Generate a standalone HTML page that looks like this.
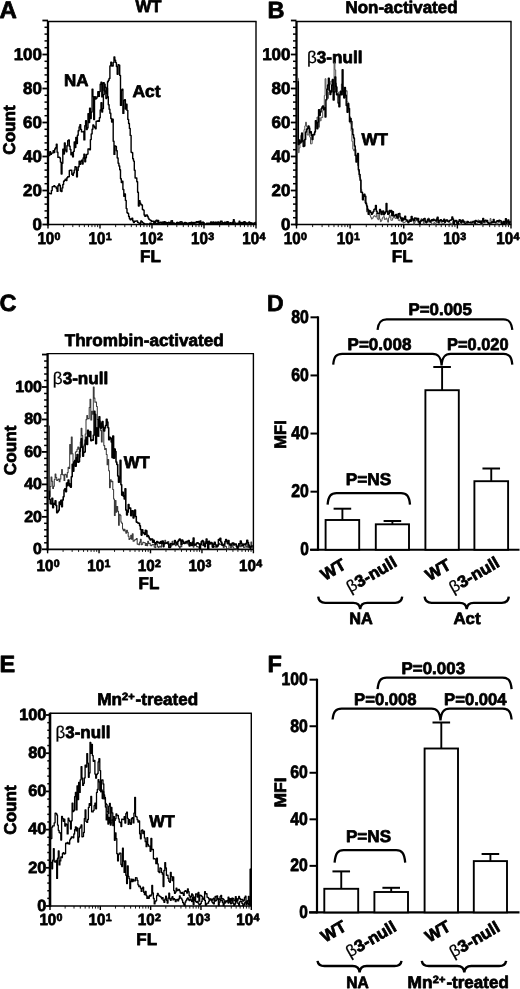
<!DOCTYPE html>
<html lang="en">
<head>
<meta charset="utf-8">
<title>Figure</title>
<style>
html,body{margin:0;padding:0;background:#fff;}
body{width:520px;height:989px;overflow:hidden;font-family:"Liberation Sans",sans-serif;}
svg{display:block;filter:grayscale(1);}
text{text-rendering:geometricPrecision;}
</style>
</head>
<body>
<svg width="520" height="989" viewBox="0 0 520 989" shape-rendering="geometricPrecision">
<rect width="520" height="989" fill="#fff"/>
<defs><filter id="soft" x="0" y="0" width="100%" height="100%" filterUnits="userSpaceOnUse" color-interpolation-filters="sRGB"><feGaussianBlur stdDeviation="0.42"/></filter></defs>
<g filter="url(#soft)">
<rect width="520" height="989" fill="#fff"/>
<line x1="48.00" y1="21.00" x2="48.00" y2="225.50" stroke="#000" stroke-width="2.3" stroke-linecap="butt"/>
<line x1="47.00" y1="224.50" x2="256.50" y2="224.50" stroke="#000" stroke-width="1.7" stroke-linecap="butt"/>
<line x1="48.00" y1="21.50" x2="256.60" y2="21.50" stroke="#000" stroke-width="1.35" stroke-linecap="butt"/>
<line x1="256.00" y1="21.50" x2="256.00" y2="224.50" stroke="#000" stroke-width="1.4" stroke-linecap="butt"/>
<line x1="42.40" y1="224.50" x2="48.00" y2="224.50" stroke="#000" stroke-width="1.8" stroke-linecap="butt"/>
<line x1="44.50" y1="217.70" x2="48.00" y2="217.70" stroke="#000" stroke-width="1.5" stroke-linecap="butt"/>
<line x1="44.50" y1="210.90" x2="48.00" y2="210.90" stroke="#000" stroke-width="1.5" stroke-linecap="butt"/>
<line x1="44.50" y1="204.10" x2="48.00" y2="204.10" stroke="#000" stroke-width="1.5" stroke-linecap="butt"/>
<line x1="44.50" y1="197.30" x2="48.00" y2="197.30" stroke="#000" stroke-width="1.5" stroke-linecap="butt"/>
<line x1="42.40" y1="190.50" x2="48.00" y2="190.50" stroke="#000" stroke-width="1.8" stroke-linecap="butt"/>
<line x1="44.50" y1="183.70" x2="48.00" y2="183.70" stroke="#000" stroke-width="1.5" stroke-linecap="butt"/>
<line x1="44.50" y1="176.90" x2="48.00" y2="176.90" stroke="#000" stroke-width="1.5" stroke-linecap="butt"/>
<line x1="44.50" y1="170.10" x2="48.00" y2="170.10" stroke="#000" stroke-width="1.5" stroke-linecap="butt"/>
<line x1="44.50" y1="163.30" x2="48.00" y2="163.30" stroke="#000" stroke-width="1.5" stroke-linecap="butt"/>
<line x1="42.40" y1="156.50" x2="48.00" y2="156.50" stroke="#000" stroke-width="1.8" stroke-linecap="butt"/>
<line x1="44.50" y1="149.70" x2="48.00" y2="149.70" stroke="#000" stroke-width="1.5" stroke-linecap="butt"/>
<line x1="44.50" y1="142.90" x2="48.00" y2="142.90" stroke="#000" stroke-width="1.5" stroke-linecap="butt"/>
<line x1="44.50" y1="136.10" x2="48.00" y2="136.10" stroke="#000" stroke-width="1.5" stroke-linecap="butt"/>
<line x1="44.50" y1="129.30" x2="48.00" y2="129.30" stroke="#000" stroke-width="1.5" stroke-linecap="butt"/>
<line x1="42.40" y1="122.50" x2="48.00" y2="122.50" stroke="#000" stroke-width="1.8" stroke-linecap="butt"/>
<line x1="44.50" y1="115.70" x2="48.00" y2="115.70" stroke="#000" stroke-width="1.5" stroke-linecap="butt"/>
<line x1="44.50" y1="108.90" x2="48.00" y2="108.90" stroke="#000" stroke-width="1.5" stroke-linecap="butt"/>
<line x1="44.50" y1="102.10" x2="48.00" y2="102.10" stroke="#000" stroke-width="1.5" stroke-linecap="butt"/>
<line x1="44.50" y1="95.30" x2="48.00" y2="95.30" stroke="#000" stroke-width="1.5" stroke-linecap="butt"/>
<line x1="42.40" y1="88.50" x2="48.00" y2="88.50" stroke="#000" stroke-width="1.8" stroke-linecap="butt"/>
<line x1="44.50" y1="81.70" x2="48.00" y2="81.70" stroke="#000" stroke-width="1.5" stroke-linecap="butt"/>
<line x1="44.50" y1="74.90" x2="48.00" y2="74.90" stroke="#000" stroke-width="1.5" stroke-linecap="butt"/>
<line x1="44.50" y1="68.10" x2="48.00" y2="68.10" stroke="#000" stroke-width="1.5" stroke-linecap="butt"/>
<line x1="44.50" y1="61.30" x2="48.00" y2="61.30" stroke="#000" stroke-width="1.5" stroke-linecap="butt"/>
<line x1="42.40" y1="54.50" x2="48.00" y2="54.50" stroke="#000" stroke-width="1.8" stroke-linecap="butt"/>
<line x1="44.50" y1="47.70" x2="48.00" y2="47.70" stroke="#000" stroke-width="1.5" stroke-linecap="butt"/>
<line x1="44.50" y1="40.90" x2="48.00" y2="40.90" stroke="#000" stroke-width="1.5" stroke-linecap="butt"/>
<line x1="44.50" y1="34.10" x2="48.00" y2="34.10" stroke="#000" stroke-width="1.5" stroke-linecap="butt"/>
<line x1="44.50" y1="27.30" x2="48.00" y2="27.30" stroke="#000" stroke-width="1.5" stroke-linecap="butt"/>
<line x1="42.40" y1="20.50" x2="48.00" y2="20.50" stroke="#000" stroke-width="1.8" stroke-linecap="butt"/>
<text x="42.00" y="229.59" font-size="17" text-anchor="end" font-family="Liberation Sans, sans-serif" font-weight="bold" stroke="#000" stroke-width="0.75" stroke-linejoin="round" >0</text>
<text x="42.00" y="195.59" font-size="17" text-anchor="end" font-family="Liberation Sans, sans-serif" font-weight="bold" stroke="#000" stroke-width="0.75" stroke-linejoin="round" >20</text>
<text x="42.00" y="161.59" font-size="17" text-anchor="end" font-family="Liberation Sans, sans-serif" font-weight="bold" stroke="#000" stroke-width="0.75" stroke-linejoin="round" >40</text>
<text x="42.00" y="127.59" font-size="17" text-anchor="end" font-family="Liberation Sans, sans-serif" font-weight="bold" stroke="#000" stroke-width="0.75" stroke-linejoin="round" >60</text>
<text x="42.00" y="93.59" font-size="17" text-anchor="end" font-family="Liberation Sans, sans-serif" font-weight="bold" stroke="#000" stroke-width="0.75" stroke-linejoin="round" >80</text>
<text x="42.00" y="59.59" font-size="17" text-anchor="end" font-family="Liberation Sans, sans-serif" font-weight="bold" stroke="#000" stroke-width="0.75" stroke-linejoin="round" >100</text>
<line x1="48.00" y1="224.50" x2="48.00" y2="228.50" stroke="#000" stroke-width="1.4" stroke-linecap="butt"/>
<line x1="63.65" y1="224.50" x2="63.65" y2="227.10" stroke="#000" stroke-width="0.9" stroke-linecap="butt"/>
<line x1="72.81" y1="224.50" x2="72.81" y2="227.10" stroke="#000" stroke-width="0.9" stroke-linecap="butt"/>
<line x1="79.31" y1="224.50" x2="79.31" y2="227.10" stroke="#000" stroke-width="0.9" stroke-linecap="butt"/>
<line x1="84.35" y1="224.50" x2="84.35" y2="227.10" stroke="#000" stroke-width="0.9" stroke-linecap="butt"/>
<line x1="88.46" y1="224.50" x2="88.46" y2="227.10" stroke="#000" stroke-width="0.9" stroke-linecap="butt"/>
<line x1="91.95" y1="224.50" x2="91.95" y2="227.10" stroke="#000" stroke-width="0.9" stroke-linecap="butt"/>
<line x1="94.96" y1="224.50" x2="94.96" y2="227.10" stroke="#000" stroke-width="0.9" stroke-linecap="butt"/>
<line x1="97.62" y1="224.50" x2="97.62" y2="227.10" stroke="#000" stroke-width="0.9" stroke-linecap="butt"/>
<text x="37.40" y="243.60" font-size="17" text-anchor="start" font-family="Liberation Sans, sans-serif" font-weight="bold" stroke="#000" stroke-width="0.75" stroke-linejoin="round" textLength="16.9" lengthAdjust="spacingAndGlyphs" >10</text>
<text x="54.60" y="240.00" font-size="10.6" text-anchor="start" font-family="Liberation Sans, sans-serif" font-weight="bold" stroke="#000" stroke-width="0.75" stroke-linejoin="round" >0</text>
<line x1="100.00" y1="224.50" x2="100.00" y2="228.50" stroke="#000" stroke-width="1.4" stroke-linecap="butt"/>
<line x1="115.65" y1="224.50" x2="115.65" y2="227.10" stroke="#000" stroke-width="0.9" stroke-linecap="butt"/>
<line x1="124.81" y1="224.50" x2="124.81" y2="227.10" stroke="#000" stroke-width="0.9" stroke-linecap="butt"/>
<line x1="131.31" y1="224.50" x2="131.31" y2="227.10" stroke="#000" stroke-width="0.9" stroke-linecap="butt"/>
<line x1="136.35" y1="224.50" x2="136.35" y2="227.10" stroke="#000" stroke-width="0.9" stroke-linecap="butt"/>
<line x1="140.46" y1="224.50" x2="140.46" y2="227.10" stroke="#000" stroke-width="0.9" stroke-linecap="butt"/>
<line x1="143.95" y1="224.50" x2="143.95" y2="227.10" stroke="#000" stroke-width="0.9" stroke-linecap="butt"/>
<line x1="146.96" y1="224.50" x2="146.96" y2="227.10" stroke="#000" stroke-width="0.9" stroke-linecap="butt"/>
<line x1="149.62" y1="224.50" x2="149.62" y2="227.10" stroke="#000" stroke-width="0.9" stroke-linecap="butt"/>
<text x="88.60" y="243.60" font-size="17" text-anchor="start" font-family="Liberation Sans, sans-serif" font-weight="bold" stroke="#000" stroke-width="0.75" stroke-linejoin="round" textLength="16.9" lengthAdjust="spacingAndGlyphs" >10</text>
<text x="105.80" y="240.00" font-size="10.6" text-anchor="start" font-family="Liberation Sans, sans-serif" font-weight="bold" stroke="#000" stroke-width="0.75" stroke-linejoin="round" >1</text>
<line x1="152.00" y1="224.50" x2="152.00" y2="228.50" stroke="#000" stroke-width="1.4" stroke-linecap="butt"/>
<line x1="167.65" y1="224.50" x2="167.65" y2="227.10" stroke="#000" stroke-width="0.9" stroke-linecap="butt"/>
<line x1="176.81" y1="224.50" x2="176.81" y2="227.10" stroke="#000" stroke-width="0.9" stroke-linecap="butt"/>
<line x1="183.31" y1="224.50" x2="183.31" y2="227.10" stroke="#000" stroke-width="0.9" stroke-linecap="butt"/>
<line x1="188.35" y1="224.50" x2="188.35" y2="227.10" stroke="#000" stroke-width="0.9" stroke-linecap="butt"/>
<line x1="192.46" y1="224.50" x2="192.46" y2="227.10" stroke="#000" stroke-width="0.9" stroke-linecap="butt"/>
<line x1="195.95" y1="224.50" x2="195.95" y2="227.10" stroke="#000" stroke-width="0.9" stroke-linecap="butt"/>
<line x1="198.96" y1="224.50" x2="198.96" y2="227.10" stroke="#000" stroke-width="0.9" stroke-linecap="butt"/>
<line x1="201.62" y1="224.50" x2="201.62" y2="227.10" stroke="#000" stroke-width="0.9" stroke-linecap="butt"/>
<text x="139.80" y="243.60" font-size="17" text-anchor="start" font-family="Liberation Sans, sans-serif" font-weight="bold" stroke="#000" stroke-width="0.75" stroke-linejoin="round" textLength="16.9" lengthAdjust="spacingAndGlyphs" >10</text>
<text x="157.00" y="240.00" font-size="10.6" text-anchor="start" font-family="Liberation Sans, sans-serif" font-weight="bold" stroke="#000" stroke-width="0.75" stroke-linejoin="round" >2</text>
<line x1="204.00" y1="224.50" x2="204.00" y2="228.50" stroke="#000" stroke-width="1.4" stroke-linecap="butt"/>
<line x1="219.65" y1="224.50" x2="219.65" y2="227.10" stroke="#000" stroke-width="0.9" stroke-linecap="butt"/>
<line x1="228.81" y1="224.50" x2="228.81" y2="227.10" stroke="#000" stroke-width="0.9" stroke-linecap="butt"/>
<line x1="235.31" y1="224.50" x2="235.31" y2="227.10" stroke="#000" stroke-width="0.9" stroke-linecap="butt"/>
<line x1="240.35" y1="224.50" x2="240.35" y2="227.10" stroke="#000" stroke-width="0.9" stroke-linecap="butt"/>
<line x1="244.46" y1="224.50" x2="244.46" y2="227.10" stroke="#000" stroke-width="0.9" stroke-linecap="butt"/>
<line x1="247.95" y1="224.50" x2="247.95" y2="227.10" stroke="#000" stroke-width="0.9" stroke-linecap="butt"/>
<line x1="250.96" y1="224.50" x2="250.96" y2="227.10" stroke="#000" stroke-width="0.9" stroke-linecap="butt"/>
<line x1="253.62" y1="224.50" x2="253.62" y2="227.10" stroke="#000" stroke-width="0.9" stroke-linecap="butt"/>
<text x="191.00" y="243.60" font-size="17" text-anchor="start" font-family="Liberation Sans, sans-serif" font-weight="bold" stroke="#000" stroke-width="0.75" stroke-linejoin="round" textLength="16.9" lengthAdjust="spacingAndGlyphs" >10</text>
<text x="208.20" y="240.00" font-size="10.6" text-anchor="start" font-family="Liberation Sans, sans-serif" font-weight="bold" stroke="#000" stroke-width="0.75" stroke-linejoin="round" >3</text>
<line x1="256.00" y1="224.50" x2="256.00" y2="228.50" stroke="#000" stroke-width="1.4" stroke-linecap="butt"/>
<text x="242.20" y="243.60" font-size="17" text-anchor="start" font-family="Liberation Sans, sans-serif" font-weight="bold" stroke="#000" stroke-width="0.75" stroke-linejoin="round" textLength="16.9" lengthAdjust="spacingAndGlyphs" >10</text>
<text x="259.40" y="240.00" font-size="10.6" text-anchor="start" font-family="Liberation Sans, sans-serif" font-weight="bold" stroke="#000" stroke-width="0.75" stroke-linejoin="round" >4</text>
<text x="150.50" y="262.00" font-size="17" text-anchor="middle" font-family="Liberation Sans, sans-serif" font-weight="bold" stroke="#000" stroke-width="0.75" stroke-linejoin="round" >FL</text>
<text x="15.30" y="130.00" font-size="17" text-anchor="middle" font-family="Liberation Sans, sans-serif" font-weight="bold" stroke="#000" stroke-width="0.75" stroke-linejoin="round" textLength="49.5" lengthAdjust="spacingAndGlyphs" transform="rotate(-90 15.30 130.00)" >Count</text>
<text x="-0.50" y="18.20" font-size="24" text-anchor="start" font-family="Liberation Sans, sans-serif" font-weight="bold" stroke="#000" stroke-width="0.75" stroke-linejoin="round" >A</text>
<text x="148.50" y="12.40" font-size="17" text-anchor="middle" font-family="Liberation Sans, sans-serif" font-weight="bold" stroke="#000" stroke-width="0.75" stroke-linejoin="round" textLength="26.0" lengthAdjust="spacingAndGlyphs" >WT</text>
<text x="64.00" y="86.30" font-size="17" text-anchor="start" font-family="Liberation Sans, sans-serif" font-weight="bold" stroke="#000" stroke-width="0.75" stroke-linejoin="round" textLength="24.5" lengthAdjust="spacingAndGlyphs" >NA</text>
<text x="132.50" y="97.20" font-size="17" text-anchor="start" font-family="Liberation Sans, sans-serif" font-weight="bold" stroke="#000" stroke-width="0.75" stroke-linejoin="round" textLength="28.0" lengthAdjust="spacingAndGlyphs" >Act</text>
<path d="M49.0 155.6H49.8V151.8H50.6V154.4H51.4V153.1H52.2V153.1H53.1V150.7H53.9V152.6H54.7V149.0H55.5V147.7H56.3V144.3H57.1V152.3H57.9V157.4H58.8V157.1H59.6V157.9H60.4V162.1H61.2V174.0H62.0V163.2H62.8V149.1H63.6V154.0H64.4V143.0H65.2V150.1H66.1V151.7H66.9V145.7H67.7V140.7H68.5V140.0H69.3V146.3H70.1V149.5H70.9V154.7H71.8V152.8H72.6V156.9H73.4V151.4H74.2V142.0H75.0V147.6H75.8V137.4H76.6V143.5H77.4V135.2H78.2V130.7H79.1V127.0H79.9V124.8H80.7V129.4H81.5V131.9H82.3V131.9H83.1V131.4H83.9V139.9H84.8V125.7H85.6V120.7H86.4V129.6H87.2V127.9H88.0V113.6H88.8V122.6H89.6V108.1H90.4V118.5H91.2V112.1H92.1V89.1H92.9V96.6H93.7V119.5H94.5V96.6H95.3V99.1H96.1V98.3H96.9V96.7H97.8V91.8H98.6V96.4H99.4V91.6H100.2V84.2H101.0V82.1H101.8V96.9H102.6V83.3H103.4V82.6H104.2V90.8H105.1V91.4H105.9V93.2H106.7V88.3H107.5V96.7H108.3V104.8H109.1V109.3H109.9V113.2H110.8V118.5H111.6V122.1H112.4V119.3H113.2V141.2H114.0V154.4H114.8V146.0H115.6V146.4H116.4V150.7H117.2V158.0H118.1V163.3H118.9V166.0H119.7V169.8H120.5V178.8H121.3V182.5H122.1V181.3H122.9V189.5H123.8V196.3H124.6V194.0H125.4V200.4H126.2V208.6H127.0V212.8H127.8V213.4H128.6V216.5H129.4V218.7H130.2V219.7H131.1V219.0H131.9V218.2H132.7V220.9H133.5V222.6H134.3V221.3H135.1V221.3H135.9V220.9H136.8V221.0H137.6V222.4H138.4V222.9H139.2V223.2H140.0V223.8H140.8V220.9H141.6V221.6H142.4V222.6H143.2V223.3H144.1V224.2H144.9V224.0H145.7V224.0H146.5V224.2H147.3V224.0H148.1V224.1H148.9V224.2H149.8V223.2H150.6V223.3H151.4V224.2H152.2V224.2H153.0V223.5H153.8V222.5H154.6V223.7H155.4V223.9H156.2V223.7H157.1V223.1H157.9V223.6H158.7V222.8H159.5V223.1H160.3V222.7H161.1V223.1H161.9V223.8H162.8V223.0H163.6V224.2H164.4V221.6H165.2V222.8H166.0V223.1H166.8V223.7H167.6V222.9H168.4V222.5H169.2V223.3H170.1V223.8H170.9V223.5H171.7V222.7H172.5V222.9H173.3V223.8H174.1V223.4H174.9V223.8H175.8V223.7H176.6V222.4H177.4V222.6H178.2V223.7H179.0V223.3H179.8V223.1H180.6V223.8H181.4V223.4H182.2V223.3H183.1V224.2H183.9V223.3H184.7V222.6H185.5V223.1H186.3V224.2H187.1V223.6H187.9V223.8H188.8V223.0H189.6V222.7H190.4V223.2H191.2V224.0H192.0V223.8H192.8V223.1H193.6V223.7H194.4V223.1H195.2V222.9H196.1V222.9H196.9V221.6H197.7V222.3H198.5V222.2H199.3V224.2H200.1V224.2H200.9V223.0H201.8V222.7H202.6V222.1H203.4V223.9H204.2V224.2H205.0V224.2H205.8V224.2H206.6V223.6H207.4V224.0H208.2V223.1H209.1V223.3H209.9V223.9H210.7V223.9H211.5V223.5H212.3V223.3H213.1V222.7H213.9V223.4H214.8V222.4H215.6V223.5H216.4V223.0H217.2V223.4H218.0V222.3H218.8V222.8H219.6V222.9H220.4V222.9H221.2V224.0H222.1V224.2H222.9V224.2H223.7V223.1H224.5V223.8H225.3V224.0H226.1V223.1H226.9V222.3H227.8V224.2H228.6V223.7H229.4V223.6H230.2V223.5H231.0V224.2H231.8V224.0H232.6V222.5H233.4V219.6H234.2V222.1H235.1V223.7H235.9V223.6H236.7V223.8H237.5V224.2H238.3V224.2H239.1V223.2H239.9V223.1H240.8V223.2H241.6V222.8H242.4V223.8H243.2V223.3H244.0V221.9H244.8V223.4H245.6V223.1H246.4V223.2H247.2V223.2H248.1V222.8H248.9V222.0H249.7V223.0H250.5V222.7H251.3V222.9H252.1V223.4H252.9V223.2H253.8V223.7H254.6V223.0H255.4V223.9H255.7" fill="none" stroke="#000" stroke-width="1.4" stroke-linejoin="round"/>
<path d="M49.0 193.3H49.8V193.6H50.6V193.8H51.4V190.6H52.2V186.6H53.1V186.5H53.9V185.7H54.7V186.8H55.5V186.9H56.3V188.5H57.1V191.4H57.9V185.8H58.8V184.0H59.6V185.5H60.4V191.0H61.2V191.5H62.0V187.9H62.8V184.5H63.6V181.3H64.4V180.4H65.2V179.2H66.1V180.5H66.9V177.7H67.7V176.7H68.5V176.8H69.3V170.5H70.1V170.3H70.9V170.1H71.8V174.4H72.6V175.3H73.4V172.9H74.2V170.1H75.0V166.8H75.8V167.1H76.6V176.9H77.4V170.4H78.2V166.7H79.1V161.3H79.9V164.3H80.7V161.3H81.5V160.3H82.3V164.1H83.1V158.0H83.9V154.1H84.8V161.7H85.6V157.7H86.4V154.5H87.2V154.1H88.0V148.9H88.8V149.0H89.6V149.8H90.4V139.6H91.2V133.9H92.1V129.2H92.9V125.0H93.7V126.1H94.5V127.5H95.3V128.7H96.1V121.2H96.9V121.3H97.8V120.7H98.6V121.2H99.4V117.8H100.2V110.0H101.0V102.6H101.8V112.0H102.6V108.6H103.4V94.6H104.2V84.3H105.1V87.2H105.9V98.5H106.7V97.5H107.5V81.7H108.3V80.3H109.1V78.4H109.9V65.9H110.8V62.2H111.6V66.0H112.4V66.1H113.2V62.4H114.0V56.9H114.8V60.3H115.6V62.6H116.4V66.6H117.2V74.3H118.1V64.6H118.9V65.1H119.7V75.4H120.5V105.4H121.3V90.2H122.1V89.2H122.9V113.4H123.8V100.5H124.6V99.8H125.4V109.0H126.2V104.2H127.0V110.4H127.8V119.4H128.6V123.5H129.4V128.4H130.2V135.4H131.1V152.2H131.9V152.8H132.7V158.8H133.5V161.1H134.3V170.3H135.1V178.0H135.9V178.0H136.8V181.7H137.6V192.2H138.4V206.0H139.2V200.8H140.0V203.1H140.8V204.7H141.6V205.0H142.4V209.5H143.2V210.1H144.1V215.0H144.9V216.4H145.7V215.1H146.5V215.0H147.3V216.3H148.1V218.1H148.9V219.4H149.8V220.1H150.6V220.5H151.4V221.4H152.2V221.3H153.0V221.2H153.8V221.5H154.6V222.7H155.4V220.9H156.2V220.2H157.1V221.7H157.9V220.5H158.7V223.0H159.5V222.6H160.3V222.1H161.1V222.8H161.9V222.1H162.8V221.9H163.6V224.2H164.4V224.2H165.2V222.8H166.0V222.4H166.8V222.7H167.6V223.0H168.4V222.4H169.2V222.6H170.1V222.7H170.9V221.0H171.7V220.8H172.5V223.3H173.3V223.2H174.1V223.1H174.9V223.7H175.8V224.2H176.6V223.7H177.4V222.5H178.2V223.7H179.0V223.1H179.8V222.0H180.6V221.7H181.4V222.0H182.2V224.1H183.1V223.8H183.9V223.2H184.7V222.4H185.5V222.7H186.3V224.2H187.1V223.1H187.9V223.7H188.8V223.2H189.6V224.0H190.4V223.0H191.2V222.1H192.0V222.9H192.8V222.8H193.6V222.4H194.4V222.8H195.2V222.8H196.1V221.7H196.9V222.0H197.7V222.5H198.5V221.4H199.3V223.2H200.1V220.9H200.9V223.1H201.8V223.0H202.6V222.5H203.4V222.7H204.2V224.2H205.0V224.2H205.8V224.2H206.6V223.3H207.4V224.2H208.2V224.2H209.1V224.2H209.9V224.2H210.7V222.0H211.5V222.2H212.3V223.6H213.1V222.0H213.9V223.9H214.8V222.6H215.6V222.1H216.4V223.2H217.2V222.1H218.0V222.2H218.8V223.6H219.6V224.2H220.4V221.2H221.2V221.3H222.1V224.2H222.9V223.0H223.7V222.6H224.5V222.3H225.3V223.5H226.1V222.4H226.9V221.7H227.8V222.0H228.6V223.3H229.4V223.7H230.2V222.7H231.0V223.0H231.8V222.9H232.6V222.3H233.4V223.7H234.2V224.2H235.1V224.2H235.9V224.2H236.7V223.1H237.5V223.1H238.3V223.7H239.1V221.2H239.9V222.8H240.8V222.9H241.6V222.4H242.4V222.9H243.2V222.4H244.0V221.8H244.8V222.1H245.6V223.4H246.4V223.3H247.2V224.2H248.1V224.2H248.9V224.2H249.7V223.4H250.5V224.1H251.3V223.8H252.1V223.6H252.9V223.6H253.8V224.2H254.6V223.1H255.4V222.2H255.7" fill="none" stroke="#000" stroke-width="1.4" stroke-linejoin="round"/>
<line x1="296.50" y1="21.00" x2="296.50" y2="225.50" stroke="#000" stroke-width="2.3" stroke-linecap="butt"/>
<line x1="295.50" y1="224.50" x2="511.50" y2="224.50" stroke="#000" stroke-width="1.7" stroke-linecap="butt"/>
<line x1="296.50" y1="21.50" x2="511.60" y2="21.50" stroke="#000" stroke-width="1.35" stroke-linecap="butt"/>
<line x1="511.00" y1="21.50" x2="511.00" y2="224.50" stroke="#000" stroke-width="1.4" stroke-linecap="butt"/>
<line x1="290.90" y1="224.50" x2="296.50" y2="224.50" stroke="#000" stroke-width="1.8" stroke-linecap="butt"/>
<line x1="293.00" y1="217.70" x2="296.50" y2="217.70" stroke="#000" stroke-width="1.5" stroke-linecap="butt"/>
<line x1="293.00" y1="210.90" x2="296.50" y2="210.90" stroke="#000" stroke-width="1.5" stroke-linecap="butt"/>
<line x1="293.00" y1="204.10" x2="296.50" y2="204.10" stroke="#000" stroke-width="1.5" stroke-linecap="butt"/>
<line x1="293.00" y1="197.30" x2="296.50" y2="197.30" stroke="#000" stroke-width="1.5" stroke-linecap="butt"/>
<line x1="290.90" y1="190.50" x2="296.50" y2="190.50" stroke="#000" stroke-width="1.8" stroke-linecap="butt"/>
<line x1="293.00" y1="183.70" x2="296.50" y2="183.70" stroke="#000" stroke-width="1.5" stroke-linecap="butt"/>
<line x1="293.00" y1="176.90" x2="296.50" y2="176.90" stroke="#000" stroke-width="1.5" stroke-linecap="butt"/>
<line x1="293.00" y1="170.10" x2="296.50" y2="170.10" stroke="#000" stroke-width="1.5" stroke-linecap="butt"/>
<line x1="293.00" y1="163.30" x2="296.50" y2="163.30" stroke="#000" stroke-width="1.5" stroke-linecap="butt"/>
<line x1="290.90" y1="156.50" x2="296.50" y2="156.50" stroke="#000" stroke-width="1.8" stroke-linecap="butt"/>
<line x1="293.00" y1="149.70" x2="296.50" y2="149.70" stroke="#000" stroke-width="1.5" stroke-linecap="butt"/>
<line x1="293.00" y1="142.90" x2="296.50" y2="142.90" stroke="#000" stroke-width="1.5" stroke-linecap="butt"/>
<line x1="293.00" y1="136.10" x2="296.50" y2="136.10" stroke="#000" stroke-width="1.5" stroke-linecap="butt"/>
<line x1="293.00" y1="129.30" x2="296.50" y2="129.30" stroke="#000" stroke-width="1.5" stroke-linecap="butt"/>
<line x1="290.90" y1="122.50" x2="296.50" y2="122.50" stroke="#000" stroke-width="1.8" stroke-linecap="butt"/>
<line x1="293.00" y1="115.70" x2="296.50" y2="115.70" stroke="#000" stroke-width="1.5" stroke-linecap="butt"/>
<line x1="293.00" y1="108.90" x2="296.50" y2="108.90" stroke="#000" stroke-width="1.5" stroke-linecap="butt"/>
<line x1="293.00" y1="102.10" x2="296.50" y2="102.10" stroke="#000" stroke-width="1.5" stroke-linecap="butt"/>
<line x1="293.00" y1="95.30" x2="296.50" y2="95.30" stroke="#000" stroke-width="1.5" stroke-linecap="butt"/>
<line x1="290.90" y1="88.50" x2="296.50" y2="88.50" stroke="#000" stroke-width="1.8" stroke-linecap="butt"/>
<line x1="293.00" y1="81.70" x2="296.50" y2="81.70" stroke="#000" stroke-width="1.5" stroke-linecap="butt"/>
<line x1="293.00" y1="74.90" x2="296.50" y2="74.90" stroke="#000" stroke-width="1.5" stroke-linecap="butt"/>
<line x1="293.00" y1="68.10" x2="296.50" y2="68.10" stroke="#000" stroke-width="1.5" stroke-linecap="butt"/>
<line x1="293.00" y1="61.30" x2="296.50" y2="61.30" stroke="#000" stroke-width="1.5" stroke-linecap="butt"/>
<line x1="290.90" y1="54.50" x2="296.50" y2="54.50" stroke="#000" stroke-width="1.8" stroke-linecap="butt"/>
<line x1="293.00" y1="47.70" x2="296.50" y2="47.70" stroke="#000" stroke-width="1.5" stroke-linecap="butt"/>
<line x1="293.00" y1="40.90" x2="296.50" y2="40.90" stroke="#000" stroke-width="1.5" stroke-linecap="butt"/>
<line x1="293.00" y1="34.10" x2="296.50" y2="34.10" stroke="#000" stroke-width="1.5" stroke-linecap="butt"/>
<line x1="293.00" y1="27.30" x2="296.50" y2="27.30" stroke="#000" stroke-width="1.5" stroke-linecap="butt"/>
<line x1="290.90" y1="20.50" x2="296.50" y2="20.50" stroke="#000" stroke-width="1.8" stroke-linecap="butt"/>
<text x="290.50" y="229.59" font-size="17" text-anchor="end" font-family="Liberation Sans, sans-serif" font-weight="bold" stroke="#000" stroke-width="0.75" stroke-linejoin="round" >0</text>
<text x="290.50" y="195.59" font-size="17" text-anchor="end" font-family="Liberation Sans, sans-serif" font-weight="bold" stroke="#000" stroke-width="0.75" stroke-linejoin="round" >20</text>
<text x="290.50" y="161.59" font-size="17" text-anchor="end" font-family="Liberation Sans, sans-serif" font-weight="bold" stroke="#000" stroke-width="0.75" stroke-linejoin="round" >40</text>
<text x="290.50" y="127.59" font-size="17" text-anchor="end" font-family="Liberation Sans, sans-serif" font-weight="bold" stroke="#000" stroke-width="0.75" stroke-linejoin="round" >60</text>
<text x="290.50" y="93.59" font-size="17" text-anchor="end" font-family="Liberation Sans, sans-serif" font-weight="bold" stroke="#000" stroke-width="0.75" stroke-linejoin="round" >80</text>
<text x="290.50" y="59.59" font-size="17" text-anchor="end" font-family="Liberation Sans, sans-serif" font-weight="bold" stroke="#000" stroke-width="0.75" stroke-linejoin="round" >100</text>
<line x1="296.50" y1="224.50" x2="296.50" y2="228.50" stroke="#000" stroke-width="1.4" stroke-linecap="butt"/>
<line x1="312.64" y1="224.50" x2="312.64" y2="227.10" stroke="#000" stroke-width="0.9" stroke-linecap="butt"/>
<line x1="322.09" y1="224.50" x2="322.09" y2="227.10" stroke="#000" stroke-width="0.9" stroke-linecap="butt"/>
<line x1="328.79" y1="224.50" x2="328.79" y2="227.10" stroke="#000" stroke-width="0.9" stroke-linecap="butt"/>
<line x1="333.98" y1="224.50" x2="333.98" y2="227.10" stroke="#000" stroke-width="0.9" stroke-linecap="butt"/>
<line x1="338.23" y1="224.50" x2="338.23" y2="227.10" stroke="#000" stroke-width="0.9" stroke-linecap="butt"/>
<line x1="341.82" y1="224.50" x2="341.82" y2="227.10" stroke="#000" stroke-width="0.9" stroke-linecap="butt"/>
<line x1="344.93" y1="224.50" x2="344.93" y2="227.10" stroke="#000" stroke-width="0.9" stroke-linecap="butt"/>
<line x1="347.67" y1="224.50" x2="347.67" y2="227.10" stroke="#000" stroke-width="0.9" stroke-linecap="butt"/>
<text x="283.70" y="243.60" font-size="17" text-anchor="start" font-family="Liberation Sans, sans-serif" font-weight="bold" stroke="#000" stroke-width="0.75" stroke-linejoin="round" textLength="16.9" lengthAdjust="spacingAndGlyphs" >10</text>
<text x="300.90" y="240.00" font-size="10.6" text-anchor="start" font-family="Liberation Sans, sans-serif" font-weight="bold" stroke="#000" stroke-width="0.75" stroke-linejoin="round" >0</text>
<line x1="350.12" y1="224.50" x2="350.12" y2="228.50" stroke="#000" stroke-width="1.4" stroke-linecap="butt"/>
<line x1="366.27" y1="224.50" x2="366.27" y2="227.10" stroke="#000" stroke-width="0.9" stroke-linecap="butt"/>
<line x1="375.71" y1="224.50" x2="375.71" y2="227.10" stroke="#000" stroke-width="0.9" stroke-linecap="butt"/>
<line x1="382.41" y1="224.50" x2="382.41" y2="227.10" stroke="#000" stroke-width="0.9" stroke-linecap="butt"/>
<line x1="387.61" y1="224.50" x2="387.61" y2="227.10" stroke="#000" stroke-width="0.9" stroke-linecap="butt"/>
<line x1="391.85" y1="224.50" x2="391.85" y2="227.10" stroke="#000" stroke-width="0.9" stroke-linecap="butt"/>
<line x1="395.44" y1="224.50" x2="395.44" y2="227.10" stroke="#000" stroke-width="0.9" stroke-linecap="butt"/>
<line x1="398.55" y1="224.50" x2="398.55" y2="227.10" stroke="#000" stroke-width="0.9" stroke-linecap="butt"/>
<line x1="401.30" y1="224.50" x2="401.30" y2="227.10" stroke="#000" stroke-width="0.9" stroke-linecap="butt"/>
<text x="336.85" y="243.60" font-size="17" text-anchor="start" font-family="Liberation Sans, sans-serif" font-weight="bold" stroke="#000" stroke-width="0.75" stroke-linejoin="round" textLength="16.9" lengthAdjust="spacingAndGlyphs" >10</text>
<text x="354.05" y="240.00" font-size="10.6" text-anchor="start" font-family="Liberation Sans, sans-serif" font-weight="bold" stroke="#000" stroke-width="0.75" stroke-linejoin="round" >1</text>
<line x1="403.75" y1="224.50" x2="403.75" y2="228.50" stroke="#000" stroke-width="1.4" stroke-linecap="butt"/>
<line x1="419.89" y1="224.50" x2="419.89" y2="227.10" stroke="#000" stroke-width="0.9" stroke-linecap="butt"/>
<line x1="429.34" y1="224.50" x2="429.34" y2="227.10" stroke="#000" stroke-width="0.9" stroke-linecap="butt"/>
<line x1="436.04" y1="224.50" x2="436.04" y2="227.10" stroke="#000" stroke-width="0.9" stroke-linecap="butt"/>
<line x1="441.23" y1="224.50" x2="441.23" y2="227.10" stroke="#000" stroke-width="0.9" stroke-linecap="butt"/>
<line x1="445.48" y1="224.50" x2="445.48" y2="227.10" stroke="#000" stroke-width="0.9" stroke-linecap="butt"/>
<line x1="449.07" y1="224.50" x2="449.07" y2="227.10" stroke="#000" stroke-width="0.9" stroke-linecap="butt"/>
<line x1="452.18" y1="224.50" x2="452.18" y2="227.10" stroke="#000" stroke-width="0.9" stroke-linecap="butt"/>
<line x1="454.92" y1="224.50" x2="454.92" y2="227.10" stroke="#000" stroke-width="0.9" stroke-linecap="butt"/>
<text x="390.00" y="243.60" font-size="17" text-anchor="start" font-family="Liberation Sans, sans-serif" font-weight="bold" stroke="#000" stroke-width="0.75" stroke-linejoin="round" textLength="16.9" lengthAdjust="spacingAndGlyphs" >10</text>
<text x="407.20" y="240.00" font-size="10.6" text-anchor="start" font-family="Liberation Sans, sans-serif" font-weight="bold" stroke="#000" stroke-width="0.75" stroke-linejoin="round" >2</text>
<line x1="457.38" y1="224.50" x2="457.38" y2="228.50" stroke="#000" stroke-width="1.4" stroke-linecap="butt"/>
<line x1="473.52" y1="224.50" x2="473.52" y2="227.10" stroke="#000" stroke-width="0.9" stroke-linecap="butt"/>
<line x1="482.96" y1="224.50" x2="482.96" y2="227.10" stroke="#000" stroke-width="0.9" stroke-linecap="butt"/>
<line x1="489.66" y1="224.50" x2="489.66" y2="227.10" stroke="#000" stroke-width="0.9" stroke-linecap="butt"/>
<line x1="494.86" y1="224.50" x2="494.86" y2="227.10" stroke="#000" stroke-width="0.9" stroke-linecap="butt"/>
<line x1="499.10" y1="224.50" x2="499.10" y2="227.10" stroke="#000" stroke-width="0.9" stroke-linecap="butt"/>
<line x1="502.69" y1="224.50" x2="502.69" y2="227.10" stroke="#000" stroke-width="0.9" stroke-linecap="butt"/>
<line x1="505.80" y1="224.50" x2="505.80" y2="227.10" stroke="#000" stroke-width="0.9" stroke-linecap="butt"/>
<line x1="508.55" y1="224.50" x2="508.55" y2="227.10" stroke="#000" stroke-width="0.9" stroke-linecap="butt"/>
<text x="443.15" y="243.60" font-size="17" text-anchor="start" font-family="Liberation Sans, sans-serif" font-weight="bold" stroke="#000" stroke-width="0.75" stroke-linejoin="round" textLength="16.9" lengthAdjust="spacingAndGlyphs" >10</text>
<text x="460.35" y="240.00" font-size="10.6" text-anchor="start" font-family="Liberation Sans, sans-serif" font-weight="bold" stroke="#000" stroke-width="0.75" stroke-linejoin="round" >3</text>
<line x1="511.00" y1="224.50" x2="511.00" y2="228.50" stroke="#000" stroke-width="1.4" stroke-linecap="butt"/>
<text x="496.30" y="243.60" font-size="17" text-anchor="start" font-family="Liberation Sans, sans-serif" font-weight="bold" stroke="#000" stroke-width="0.75" stroke-linejoin="round" textLength="16.9" lengthAdjust="spacingAndGlyphs" >10</text>
<text x="513.50" y="240.00" font-size="10.6" text-anchor="start" font-family="Liberation Sans, sans-serif" font-weight="bold" stroke="#000" stroke-width="0.75" stroke-linejoin="round" >4</text>
<text x="402.25" y="262.00" font-size="17" text-anchor="middle" font-family="Liberation Sans, sans-serif" font-weight="bold" stroke="#000" stroke-width="0.75" stroke-linejoin="round" >FL</text>
<text x="-100.00" y="-100.00" font-size="17" text-anchor="middle" font-family="Liberation Sans, sans-serif" font-weight="bold" stroke="#000" stroke-width="0.75" stroke-linejoin="round" textLength="49.5" lengthAdjust="spacingAndGlyphs" transform="rotate(-90 -100.00 -100.00)" >Count</text>
<text x="267.60" y="17.60" font-size="23.5" text-anchor="start" font-family="Liberation Sans, sans-serif" font-weight="bold" stroke="#000" stroke-width="0.75" stroke-linejoin="round" >B</text>
<text x="401.50" y="12.50" font-size="17" text-anchor="middle" font-family="Liberation Sans, sans-serif" font-weight="bold" stroke="#000" stroke-width="0.75" stroke-linejoin="round" textLength="112.0" lengthAdjust="spacingAndGlyphs" >Non-activated</text>
<text x="307.00" y="62.60" font-size="17" text-anchor="start" font-family="Liberation Sans, sans-serif" font-weight="bold" stroke="#000" stroke-width="0.75" stroke-linejoin="round" textLength="55.5" lengthAdjust="spacingAndGlyphs" ><tspan font-weight="normal" stroke-width="0.25">&#946;</tspan>3-null</text>
<text x="361.50" y="145.00" font-size="17" text-anchor="start" font-family="Liberation Sans, sans-serif" font-weight="bold" stroke="#000" stroke-width="0.75" stroke-linejoin="round" textLength="26.5" lengthAdjust="spacingAndGlyphs" >WT</text>
<path d="M297.5 78.3H298.3V152.7H299.1V148.0H299.9V142.3H300.8V135.4H301.6V132.5H302.4V141.0H303.2V140.3H304.0V129.6H304.8V125.9H305.6V122.2H306.4V126.5H307.2V135.0H308.1V135.0H308.9V126.4H309.7V137.1H310.5V143.9H311.3V143.8H312.1V137.2H312.9V134.4H313.8V134.7H314.6V131.5H315.4V126.6H316.2V120.9H317.0V117.0H317.8V121.7H318.6V127.3H319.4V117.8H320.2V120.8H321.1V117.2H321.9V117.6H322.7V110.3H323.5V108.1H324.3V95.6H325.1V78.7H325.9V88.8H326.8V91.0H327.6V98.5H328.4V92.5H329.2V84.2H330.0V84.2H330.8V81.0H331.6V81.2H332.4V82.8H333.2V89.7H334.1V62.8H334.9V69.9H335.7V83.1H336.5V87.1H337.3V91.8H338.1V92.7H338.9V97.6H339.8V91.3H340.6V90.6H341.4V84.0H342.2V86.1H343.0V93.0H343.8V98.2H344.6V92.9H345.4V91.5H346.2V90.7H347.1V101.7H347.9V104.3H348.7V109.0H349.5V116.7H350.3V123.7H351.1V131.1H351.9V141.4H352.8V149.2H353.6V150.8H354.4V149.3H355.2V149.4H356.0V155.0H356.8V160.1H357.6V165.7H358.4V171.3H359.2V177.0H360.1V178.7H360.9V189.2H361.7V191.9H362.5V196.6H363.3V194.7H364.1V200.3H364.9V203.1H365.8V202.2H366.6V211.9H367.4V208.4H368.2V210.2H369.0V214.3H369.8V215.4H370.6V217.3H371.4V219.1H372.2V218.3H373.1V216.8H373.9V215.7H374.7V216.4H375.5V217.0H376.3V213.5H377.1V218.4H377.9V219.7H378.8V213.2H379.6V219.1H380.4V221.7H381.2V220.6H382.0V218.4H382.8V217.0H383.6V216.6H384.4V219.5H385.2V219.0H386.1V218.0H386.9V219.9H387.7V222.2H388.5V217.9H389.3V214.9H390.1V217.1H390.9V220.3H391.8V220.2H392.6V218.1H393.4V215.5H394.2V217.5H395.0V218.5H395.8V217.5H396.6V218.5H397.4V217.6H398.2V220.3H399.1V220.7H399.9V218.8H400.7V217.8H401.5V218.8H402.3V220.5H403.1V223.0H403.9V222.5H404.8V222.0H405.6V221.4H406.4V220.4H407.2V220.8H408.0V220.0H408.8V220.6H409.6V221.3H410.4V220.8H411.2V220.1H412.1V220.0H412.9V221.4H413.7V224.2H414.5V222.3H415.3V219.2H416.1V219.0H416.9V221.1H417.8V222.4H418.6V222.9H419.4V221.5H420.2V220.3H421.0V218.7H421.8V220.7H422.6V220.3H423.4V224.1H424.2V220.7H425.1V221.4H425.9V223.3H426.7V222.5H427.5V222.3H428.3V218.0H429.1V219.1H429.9V220.8H430.8V222.5H431.6V224.2H432.4V224.2H433.2V223.4H434.0V222.4H434.8V224.2H435.6V223.2H436.4V218.5H437.2V220.1H438.1V223.2H438.9V223.7H439.7V221.2H440.5V221.1H441.3V223.0H442.1V223.3H442.9V223.4H443.8V223.8H444.6V222.8H445.4V220.7H446.2V220.3H447.0V219.7H447.8V221.6H448.6V222.6H449.4V223.3H450.2V223.0H451.1V224.2H451.9V224.2H452.7V221.6H453.5V220.3H454.3V220.5H455.1V220.5H455.9V221.8H456.8V222.9H457.6V222.6H458.4V223.0H459.2V224.1H460.0V224.2H460.8V224.2H461.6V222.8H462.4V222.4H463.2V222.4H464.1V221.0H464.9V221.6H465.7V221.4H466.5V221.3H467.3V223.5H468.1V221.5H468.9V222.5H469.8V222.5H470.6V221.3H471.4V221.4H472.2V221.2H473.0V222.1H473.8V224.1H474.6V222.6H475.4V223.2H476.2V223.6H477.1V223.0H477.9V219.9H478.7V221.2H479.5V221.8H480.3V224.1H481.1V224.2H481.9V224.2H482.8V221.3H483.6V222.3H484.4V223.1H485.2V222.6H486.0V222.1H486.8V221.9H487.6V223.4H488.4V223.9H489.2V223.2H490.1V218.5H490.9V221.2H491.7V222.5H492.5V222.5H493.3V222.5H494.1V222.6H494.9V223.0H495.8V223.5H496.6V224.2H497.4V223.3H498.2V221.3H499.0V221.8H499.8V222.7H500.6V223.0H501.4V222.8H502.2V222.7H503.1V223.3H503.9V222.8H504.7V222.8H505.5V223.7H506.3V224.2H507.1V224.2H507.9V223.9H508.8V223.1H509.6V222.5H510.4V221.3H510.7" fill="none" stroke="#505050" stroke-width="1.0" stroke-linejoin="round"/>
<path d="M297.5 81.7H298.3V144.4H299.1V140.1H299.9V143.1H300.8V141.9H301.6V133.6H302.4V140.8H303.2V146.6H304.0V145.9H304.8V139.4H305.6V131.9H306.4V129.6H307.2V128.4H308.1V126.1H308.9V128.2H309.7V132.8H310.5V131.7H311.3V135.4H312.1V139.6H312.9V134.4H313.8V134.8H314.6V132.0H315.4V120.8H316.2V123.3H317.0V128.7H317.8V122.1H318.6V109.8H319.4V115.6H320.2V112.0H321.1V108.7H321.9V106.9H322.7V105.9H323.5V109.4H324.3V108.0H325.1V117.0H325.9V99.8H326.8V89.4H327.6V85.1H328.4V78.2H329.2V90.4H330.0V94.4H330.8V92.0H331.6V84.9H332.4V79.5H333.2V100.1H334.1V92.0H334.9V77.1H335.7V86.2H336.5V94.7H337.3V93.9H338.1V103.1H338.9V106.7H339.8V94.8H340.6V91.6H341.4V94.8H342.2V69.7H343.0V91.2H343.8V97.7H344.6V87.4H345.4V95.3H346.2V105.4H347.1V112.3H347.9V103.5H348.7V108.4H349.5V121.8H350.3V118.5H351.1V121.6H351.9V129.1H352.8V134.7H353.6V138.0H354.4V145.9H355.2V155.4H356.0V162.1H356.8V159.2H357.6V153.6H358.4V169.7H359.2V174.5H360.1V180.3H360.9V192.2H361.7V192.5H362.5V199.8H363.3V196.6H364.1V194.3H364.9V196.3H365.8V203.8H366.6V206.0H367.4V209.8H368.2V214.2H369.0V210.6H369.8V211.1H370.6V212.5H371.4V214.3H372.2V213.1H373.1V211.5H373.9V209.6H374.7V208.9H375.5V205.4H376.3V211.3H377.1V213.3H377.9V213.2H378.8V213.2H379.6V209.4H380.4V211.0H381.2V214.6H382.0V212.4H382.8V211.1H383.6V214.8H384.4V213.5H385.2V211.9H386.1V203.6H386.9V211.2H387.7V214.2H388.5V213.7H389.3V210.4H390.1V212.1H390.9V210.5H391.8V215.7H392.6V211.7H393.4V215.2H394.2V216.1H395.0V215.2H395.8V214.4H396.6V217.1H397.4V218.0H398.2V213.8H399.1V213.6H399.9V217.1H400.7V218.3H401.5V221.0H402.3V218.0H403.1V220.0H403.9V219.0H404.8V216.3H405.6V219.8H406.4V220.0H407.2V221.5H408.0V222.8H408.8V221.6H409.6V220.0H410.4V221.3H411.2V216.6H412.1V218.7H412.9V220.0H413.7V220.8H414.5V218.0H415.3V218.3H416.1V218.2H416.9V220.0H417.8V218.5H418.6V221.8H419.4V224.2H420.2V221.4H421.0V220.6H421.8V220.1H422.6V220.6H423.4V219.1H424.2V218.5H425.1V221.2H425.9V222.6H426.7V221.2H427.5V219.3H428.3V219.3H429.1V221.1H429.9V222.1H430.8V220.7H431.6V219.8H432.4V220.8H433.2V219.3H434.0V219.9H434.8V220.6H435.6V221.0H436.4V219.4H437.2V217.3H438.1V222.4H438.9V220.6H439.7V220.7H440.5V219.7H441.3V220.6H442.1V221.6H442.9V221.2H443.8V219.2H444.6V222.2H445.4V221.0H446.2V220.0H447.0V220.8H447.8V221.4H448.6V221.6H449.4V220.6H450.2V220.3H451.1V219.8H451.9V217.1H452.7V219.1H453.5V224.2H454.3V221.7H455.1V220.4H455.9V220.6H456.8V223.3H457.6V223.4H458.4V221.5H459.2V219.8H460.0V220.3H460.8V222.8H461.6V221.4H462.4V220.1H463.2V221.4H464.1V222.9H464.9V223.2H465.7V222.9H466.5V222.7H467.3V221.6H468.1V222.5H468.9V222.8H469.8V222.4H470.6V223.0H471.4V223.1H472.2V222.1H473.0V221.8H473.8V221.2H474.6V223.2H475.4V220.4H476.2V221.3H477.1V221.4H477.9V221.7H478.7V222.2H479.5V220.9H480.3V222.6H481.1V223.4H481.9V220.8H482.8V218.6H483.6V222.0H484.4V220.7H485.2V220.3H486.0V221.2H486.8V220.4H487.6V222.5H488.4V223.2H489.2V223.2H490.1V223.1H490.9V223.0H491.7V222.0H492.5V222.5H493.3V219.5H494.1V221.9H494.9V222.6H495.8V221.9H496.6V221.0H497.4V220.8H498.2V221.5H499.0V220.3H499.8V220.7H500.6V221.1H501.4V223.6H502.2V223.4H503.1V221.4H503.9V224.2H504.7V221.5H505.5V218.8H506.3V223.3H507.1V221.7H507.9V220.0H508.8V223.5H509.6V221.9H510.4V221.8H510.7" fill="none" stroke="#000" stroke-width="1.5" stroke-linejoin="round"/>
<line x1="47.60" y1="353.10" x2="47.60" y2="550.30" stroke="#000" stroke-width="2.3" stroke-linecap="butt"/>
<line x1="46.60" y1="549.30" x2="253.90" y2="549.30" stroke="#000" stroke-width="1.7" stroke-linecap="butt"/>
<line x1="47.60" y1="353.60" x2="254.00" y2="353.60" stroke="#000" stroke-width="1.35" stroke-linecap="butt"/>
<line x1="253.40" y1="353.60" x2="253.40" y2="549.30" stroke="#000" stroke-width="1.4" stroke-linecap="butt"/>
<line x1="42.00" y1="549.30" x2="47.60" y2="549.30" stroke="#000" stroke-width="1.8" stroke-linecap="butt"/>
<line x1="44.10" y1="542.81" x2="47.60" y2="542.81" stroke="#000" stroke-width="1.5" stroke-linecap="butt"/>
<line x1="44.10" y1="536.32" x2="47.60" y2="536.32" stroke="#000" stroke-width="1.5" stroke-linecap="butt"/>
<line x1="44.10" y1="529.82" x2="47.60" y2="529.82" stroke="#000" stroke-width="1.5" stroke-linecap="butt"/>
<line x1="44.10" y1="523.33" x2="47.60" y2="523.33" stroke="#000" stroke-width="1.5" stroke-linecap="butt"/>
<line x1="42.00" y1="516.84" x2="47.60" y2="516.84" stroke="#000" stroke-width="1.8" stroke-linecap="butt"/>
<line x1="44.10" y1="510.35" x2="47.60" y2="510.35" stroke="#000" stroke-width="1.5" stroke-linecap="butt"/>
<line x1="44.10" y1="503.86" x2="47.60" y2="503.86" stroke="#000" stroke-width="1.5" stroke-linecap="butt"/>
<line x1="44.10" y1="497.36" x2="47.60" y2="497.36" stroke="#000" stroke-width="1.5" stroke-linecap="butt"/>
<line x1="44.10" y1="490.87" x2="47.60" y2="490.87" stroke="#000" stroke-width="1.5" stroke-linecap="butt"/>
<line x1="42.00" y1="484.38" x2="47.60" y2="484.38" stroke="#000" stroke-width="1.8" stroke-linecap="butt"/>
<line x1="44.10" y1="477.89" x2="47.60" y2="477.89" stroke="#000" stroke-width="1.5" stroke-linecap="butt"/>
<line x1="44.10" y1="471.40" x2="47.60" y2="471.40" stroke="#000" stroke-width="1.5" stroke-linecap="butt"/>
<line x1="44.10" y1="464.90" x2="47.60" y2="464.90" stroke="#000" stroke-width="1.5" stroke-linecap="butt"/>
<line x1="44.10" y1="458.41" x2="47.60" y2="458.41" stroke="#000" stroke-width="1.5" stroke-linecap="butt"/>
<line x1="42.00" y1="451.92" x2="47.60" y2="451.92" stroke="#000" stroke-width="1.8" stroke-linecap="butt"/>
<line x1="44.10" y1="445.43" x2="47.60" y2="445.43" stroke="#000" stroke-width="1.5" stroke-linecap="butt"/>
<line x1="44.10" y1="438.94" x2="47.60" y2="438.94" stroke="#000" stroke-width="1.5" stroke-linecap="butt"/>
<line x1="44.10" y1="432.44" x2="47.60" y2="432.44" stroke="#000" stroke-width="1.5" stroke-linecap="butt"/>
<line x1="44.10" y1="425.95" x2="47.60" y2="425.95" stroke="#000" stroke-width="1.5" stroke-linecap="butt"/>
<line x1="42.00" y1="419.46" x2="47.60" y2="419.46" stroke="#000" stroke-width="1.8" stroke-linecap="butt"/>
<line x1="44.10" y1="412.97" x2="47.60" y2="412.97" stroke="#000" stroke-width="1.5" stroke-linecap="butt"/>
<line x1="44.10" y1="406.48" x2="47.60" y2="406.48" stroke="#000" stroke-width="1.5" stroke-linecap="butt"/>
<line x1="44.10" y1="399.98" x2="47.60" y2="399.98" stroke="#000" stroke-width="1.5" stroke-linecap="butt"/>
<line x1="44.10" y1="393.49" x2="47.60" y2="393.49" stroke="#000" stroke-width="1.5" stroke-linecap="butt"/>
<line x1="42.00" y1="387.00" x2="47.60" y2="387.00" stroke="#000" stroke-width="1.8" stroke-linecap="butt"/>
<line x1="44.10" y1="380.51" x2="47.60" y2="380.51" stroke="#000" stroke-width="1.5" stroke-linecap="butt"/>
<line x1="44.10" y1="374.02" x2="47.60" y2="374.02" stroke="#000" stroke-width="1.5" stroke-linecap="butt"/>
<line x1="44.10" y1="367.52" x2="47.60" y2="367.52" stroke="#000" stroke-width="1.5" stroke-linecap="butt"/>
<line x1="44.10" y1="361.03" x2="47.60" y2="361.03" stroke="#000" stroke-width="1.5" stroke-linecap="butt"/>
<line x1="42.00" y1="354.54" x2="47.60" y2="354.54" stroke="#000" stroke-width="1.8" stroke-linecap="butt"/>
<text x="42.00" y="554.03" font-size="16" text-anchor="end" font-family="Liberation Sans, sans-serif" font-weight="bold" stroke="#000" stroke-width="0.75" stroke-linejoin="round" >0</text>
<text x="42.00" y="521.57" font-size="16" text-anchor="end" font-family="Liberation Sans, sans-serif" font-weight="bold" stroke="#000" stroke-width="0.75" stroke-linejoin="round" >20</text>
<text x="42.00" y="489.11" font-size="16" text-anchor="end" font-family="Liberation Sans, sans-serif" font-weight="bold" stroke="#000" stroke-width="0.75" stroke-linejoin="round" >40</text>
<text x="42.00" y="456.65" font-size="16" text-anchor="end" font-family="Liberation Sans, sans-serif" font-weight="bold" stroke="#000" stroke-width="0.75" stroke-linejoin="round" >60</text>
<text x="42.00" y="424.19" font-size="16" text-anchor="end" font-family="Liberation Sans, sans-serif" font-weight="bold" stroke="#000" stroke-width="0.75" stroke-linejoin="round" >80</text>
<text x="42.00" y="391.73" font-size="16" text-anchor="end" font-family="Liberation Sans, sans-serif" font-weight="bold" stroke="#000" stroke-width="0.75" stroke-linejoin="round" >100</text>
<line x1="47.60" y1="549.30" x2="47.60" y2="553.30" stroke="#000" stroke-width="1.4" stroke-linecap="butt"/>
<line x1="63.09" y1="549.30" x2="63.09" y2="551.90" stroke="#000" stroke-width="0.9" stroke-linecap="butt"/>
<line x1="72.15" y1="549.30" x2="72.15" y2="551.90" stroke="#000" stroke-width="0.9" stroke-linecap="butt"/>
<line x1="78.58" y1="549.30" x2="78.58" y2="551.90" stroke="#000" stroke-width="0.9" stroke-linecap="butt"/>
<line x1="83.56" y1="549.30" x2="83.56" y2="551.90" stroke="#000" stroke-width="0.9" stroke-linecap="butt"/>
<line x1="87.64" y1="549.30" x2="87.64" y2="551.90" stroke="#000" stroke-width="0.9" stroke-linecap="butt"/>
<line x1="91.08" y1="549.30" x2="91.08" y2="551.90" stroke="#000" stroke-width="0.9" stroke-linecap="butt"/>
<line x1="94.06" y1="549.30" x2="94.06" y2="551.90" stroke="#000" stroke-width="0.9" stroke-linecap="butt"/>
<line x1="96.70" y1="549.30" x2="96.70" y2="551.90" stroke="#000" stroke-width="0.9" stroke-linecap="butt"/>
<text x="36.60" y="570.80" font-size="16" text-anchor="start" font-family="Liberation Sans, sans-serif" font-weight="bold" stroke="#000" stroke-width="0.75" stroke-linejoin="round" textLength="16.9" lengthAdjust="spacingAndGlyphs" >10</text>
<text x="53.80" y="567.20" font-size="10.6" text-anchor="start" font-family="Liberation Sans, sans-serif" font-weight="bold" stroke="#000" stroke-width="0.75" stroke-linejoin="round" >0</text>
<line x1="99.05" y1="549.30" x2="99.05" y2="553.30" stroke="#000" stroke-width="1.4" stroke-linecap="butt"/>
<line x1="114.54" y1="549.30" x2="114.54" y2="551.90" stroke="#000" stroke-width="0.9" stroke-linecap="butt"/>
<line x1="123.60" y1="549.30" x2="123.60" y2="551.90" stroke="#000" stroke-width="0.9" stroke-linecap="butt"/>
<line x1="130.03" y1="549.30" x2="130.03" y2="551.90" stroke="#000" stroke-width="0.9" stroke-linecap="butt"/>
<line x1="135.01" y1="549.30" x2="135.01" y2="551.90" stroke="#000" stroke-width="0.9" stroke-linecap="butt"/>
<line x1="139.09" y1="549.30" x2="139.09" y2="551.90" stroke="#000" stroke-width="0.9" stroke-linecap="butt"/>
<line x1="142.53" y1="549.30" x2="142.53" y2="551.90" stroke="#000" stroke-width="0.9" stroke-linecap="butt"/>
<line x1="145.51" y1="549.30" x2="145.51" y2="551.90" stroke="#000" stroke-width="0.9" stroke-linecap="butt"/>
<line x1="148.15" y1="549.30" x2="148.15" y2="551.90" stroke="#000" stroke-width="0.9" stroke-linecap="butt"/>
<text x="87.20" y="570.80" font-size="16" text-anchor="start" font-family="Liberation Sans, sans-serif" font-weight="bold" stroke="#000" stroke-width="0.75" stroke-linejoin="round" textLength="16.9" lengthAdjust="spacingAndGlyphs" >10</text>
<text x="104.40" y="567.20" font-size="10.6" text-anchor="start" font-family="Liberation Sans, sans-serif" font-weight="bold" stroke="#000" stroke-width="0.75" stroke-linejoin="round" >1</text>
<line x1="150.50" y1="549.30" x2="150.50" y2="553.30" stroke="#000" stroke-width="1.4" stroke-linecap="butt"/>
<line x1="165.99" y1="549.30" x2="165.99" y2="551.90" stroke="#000" stroke-width="0.9" stroke-linecap="butt"/>
<line x1="175.05" y1="549.30" x2="175.05" y2="551.90" stroke="#000" stroke-width="0.9" stroke-linecap="butt"/>
<line x1="181.48" y1="549.30" x2="181.48" y2="551.90" stroke="#000" stroke-width="0.9" stroke-linecap="butt"/>
<line x1="186.46" y1="549.30" x2="186.46" y2="551.90" stroke="#000" stroke-width="0.9" stroke-linecap="butt"/>
<line x1="190.54" y1="549.30" x2="190.54" y2="551.90" stroke="#000" stroke-width="0.9" stroke-linecap="butt"/>
<line x1="193.98" y1="549.30" x2="193.98" y2="551.90" stroke="#000" stroke-width="0.9" stroke-linecap="butt"/>
<line x1="196.96" y1="549.30" x2="196.96" y2="551.90" stroke="#000" stroke-width="0.9" stroke-linecap="butt"/>
<line x1="199.60" y1="549.30" x2="199.60" y2="551.90" stroke="#000" stroke-width="0.9" stroke-linecap="butt"/>
<text x="137.80" y="570.80" font-size="16" text-anchor="start" font-family="Liberation Sans, sans-serif" font-weight="bold" stroke="#000" stroke-width="0.75" stroke-linejoin="round" textLength="16.9" lengthAdjust="spacingAndGlyphs" >10</text>
<text x="155.00" y="567.20" font-size="10.6" text-anchor="start" font-family="Liberation Sans, sans-serif" font-weight="bold" stroke="#000" stroke-width="0.75" stroke-linejoin="round" >2</text>
<line x1="201.95" y1="549.30" x2="201.95" y2="553.30" stroke="#000" stroke-width="1.4" stroke-linecap="butt"/>
<line x1="217.44" y1="549.30" x2="217.44" y2="551.90" stroke="#000" stroke-width="0.9" stroke-linecap="butt"/>
<line x1="226.50" y1="549.30" x2="226.50" y2="551.90" stroke="#000" stroke-width="0.9" stroke-linecap="butt"/>
<line x1="232.93" y1="549.30" x2="232.93" y2="551.90" stroke="#000" stroke-width="0.9" stroke-linecap="butt"/>
<line x1="237.91" y1="549.30" x2="237.91" y2="551.90" stroke="#000" stroke-width="0.9" stroke-linecap="butt"/>
<line x1="241.99" y1="549.30" x2="241.99" y2="551.90" stroke="#000" stroke-width="0.9" stroke-linecap="butt"/>
<line x1="245.43" y1="549.30" x2="245.43" y2="551.90" stroke="#000" stroke-width="0.9" stroke-linecap="butt"/>
<line x1="248.41" y1="549.30" x2="248.41" y2="551.90" stroke="#000" stroke-width="0.9" stroke-linecap="butt"/>
<line x1="251.05" y1="549.30" x2="251.05" y2="551.90" stroke="#000" stroke-width="0.9" stroke-linecap="butt"/>
<text x="188.40" y="570.80" font-size="16" text-anchor="start" font-family="Liberation Sans, sans-serif" font-weight="bold" stroke="#000" stroke-width="0.75" stroke-linejoin="round" textLength="16.9" lengthAdjust="spacingAndGlyphs" >10</text>
<text x="205.60" y="567.20" font-size="10.6" text-anchor="start" font-family="Liberation Sans, sans-serif" font-weight="bold" stroke="#000" stroke-width="0.75" stroke-linejoin="round" >3</text>
<line x1="253.40" y1="549.30" x2="253.40" y2="553.30" stroke="#000" stroke-width="1.4" stroke-linecap="butt"/>
<text x="239.00" y="570.80" font-size="16" text-anchor="start" font-family="Liberation Sans, sans-serif" font-weight="bold" stroke="#000" stroke-width="0.75" stroke-linejoin="round" textLength="16.9" lengthAdjust="spacingAndGlyphs" >10</text>
<text x="256.20" y="567.20" font-size="10.6" text-anchor="start" font-family="Liberation Sans, sans-serif" font-weight="bold" stroke="#000" stroke-width="0.75" stroke-linejoin="round" >4</text>
<text x="149.00" y="589.00" font-size="17" text-anchor="middle" font-family="Liberation Sans, sans-serif" font-weight="bold" stroke="#000" stroke-width="0.75" stroke-linejoin="round" >FL</text>
<text x="16.50" y="450.40" font-size="17" text-anchor="middle" font-family="Liberation Sans, sans-serif" font-weight="bold" stroke="#000" stroke-width="0.75" stroke-linejoin="round" textLength="49.5" lengthAdjust="spacingAndGlyphs" transform="rotate(-90 16.50 450.40)" >Count</text>
<text x="-0.60" y="310.60" font-size="23.5" text-anchor="start" font-family="Liberation Sans, sans-serif" font-weight="bold" stroke="#000" stroke-width="0.75" stroke-linejoin="round" >C</text>
<text x="144.20" y="346.00" font-size="17" text-anchor="middle" font-family="Liberation Sans, sans-serif" font-weight="bold" stroke="#000" stroke-width="0.75" stroke-linejoin="round" textLength="159.0" lengthAdjust="spacingAndGlyphs" >Thrombin-activated</text>
<text x="52.80" y="384.00" font-size="17" text-anchor="start" font-family="Liberation Sans, sans-serif" font-weight="bold" stroke="#000" stroke-width="0.75" stroke-linejoin="round" textLength="55.5" lengthAdjust="spacingAndGlyphs" ><tspan font-weight="normal" stroke-width="0.25">&#946;</tspan>3-null</text>
<text x="123.80" y="468.00" font-size="17" text-anchor="start" font-family="Liberation Sans, sans-serif" font-weight="bold" stroke="#000" stroke-width="0.75" stroke-linejoin="round" textLength="26.0" lengthAdjust="spacingAndGlyphs" >WT</text>
<path d="M48.6 426.0H49.4V496.6H50.2V486.4H51.0V477.0H51.9V481.3H52.7V488.5H53.5V486.3H54.3V479.4H55.1V473.9H55.9V477.5H56.7V480.5H57.5V479.7H58.4V478.9H59.2V481.8H60.0V479.0H60.8V474.4H61.6V469.6H62.4V474.6H63.2V475.0H64.0V480.4H64.8V474.2H65.7V474.7H66.5V477.2H67.3V472.6H68.1V467.2H68.9V468.4H69.7V444.4H70.5V453.9H71.3V437.0H72.2V453.8H73.0V465.7H73.8V461.6H74.6V460.1H75.4V451.9H76.2V451.5H77.0V449.3H77.8V446.9H78.7V449.1H79.5V457.3H80.3V442.0H81.1V428.2H81.9V435.5H82.7V452.8H83.5V446.0H84.3V444.1H85.2V433.9H86.0V419.6H86.8V415.4H87.6V418.6H88.4V418.8H89.2V407.5H90.0V399.3H90.8V419.9H91.7V411.3H92.5V414.3H93.3V387.1H94.1V398.1H94.9V402.2H95.7V402.1H96.5V406.5H97.3V419.5H98.2V436.5H99.0V427.6H99.8V421.0H100.6V430.6H101.4V442.0H102.2V424.3H103.0V426.3H103.8V445.6H104.7V449.5H105.5V448.5H106.3V454.5H107.1V464.8H107.9V459.6H108.7V470.8H109.5V487.6H110.3V479.7H111.2V481.8H112.0V481.3H112.8V489.5H113.6V498.9H114.4V515.5H115.2V500.6H116.0V512.1H116.8V506.5H117.7V511.2H118.5V525.3H119.3V514.3H120.1V515.3H120.9V522.0H121.7V523.3H122.5V528.9H123.3V530.6H124.2V529.2H125.0V531.0H125.8V533.1H126.6V530.3H127.4V532.3H128.2V536.2H129.0V539.5H129.8V538.5H130.7V535.2H131.5V539.3H132.3V533.8H133.1V541.3H133.9V540.7H134.7V539.8H135.5V539.5H136.3V538.6H137.2V544.1H138.0V544.0H138.8V544.7H139.6V542.1H140.4V539.3H141.2V544.6H142.0V544.1H142.8V542.3H143.7V542.5H144.5V542.8H145.3V545.4H146.1V543.5H146.9V545.6H147.7V541.2H148.5V543.4H149.3V543.3H150.2V545.3H151.0V545.8H151.8V544.7H152.6V544.2H153.4V544.8H154.2V546.9H155.0V547.6H155.8V543.1H156.7V543.8H157.5V546.8H158.3V547.6H159.1V546.2H159.9V546.2H160.7V547.1H161.5V542.9H162.3V543.1H163.2V544.5H164.0V543.8H164.8V540.3H165.6V542.5H166.4V543.1H167.2V541.7H168.0V541.6H168.8V544.4H169.7V545.7H170.5V546.2H171.3V545.6H172.1V541.3H172.9V544.7H173.7V543.9H174.5V544.2H175.3V545.6H176.2V543.7H177.0V544.7H177.8V545.2H178.6V546.4H179.4V549.1H180.2V546.1H181.0V546.8H181.8V543.9H182.7V543.5H183.5V542.1H184.3V542.8H185.1V542.8H185.9V542.4H186.7V543.6H187.5V542.6H188.3V544.3H189.2V544.9H190.0V545.5H190.8V544.1H191.6V543.9H192.4V543.0H193.2V547.1H194.0V545.4H194.8V544.4H195.7V545.5H196.5V546.8H197.3V546.6H198.1V546.9H198.9V549.1H199.7V546.4H200.5V543.8H201.3V542.1H202.2V545.2H203.0V545.4H203.8V543.0H204.6V543.6H205.4V541.8H206.2V543.0H207.0V541.5H207.8V543.4H208.7V544.0H209.5V542.4H210.3V543.3H211.1V542.6H211.9V546.9H212.7V546.0H213.5V545.9H214.3V546.7H215.2V547.3H216.0V547.2H216.8V546.2H217.6V546.1H218.4V544.6H219.2V543.6H220.0V544.5H220.8V544.6H221.7V543.0H222.5V544.6H223.3V547.7H224.1V544.3H224.9V546.1H225.7V546.6H226.5V548.4H227.3V549.1H228.2V548.8H229.0V545.1H229.8V545.5H230.6V547.9H231.4V546.1H232.2V544.8H233.0V547.6H233.8V548.7H234.7V548.7H235.5V548.7H236.3V549.1H237.1V548.2H237.9V548.4H238.7V546.1H239.5V544.1H240.3V546.7H241.2V545.5H242.0V545.8H242.8V545.4H243.6V547.5H244.4V546.9H245.2V547.0H246.0V546.3H246.8V547.1H247.7V543.7H248.5V547.4H249.3V547.7H250.1V547.3H250.9V541.9H251.7V546.9H252.5V547.9H253.1" fill="none" stroke="#3c3c3c" stroke-width="1.05" stroke-linejoin="round"/>
<path d="M48.6 491.2H49.4V499.3H50.2V503.8H51.0V504.0H51.9V498.2H52.7V507.8H53.5V503.5H54.3V504.1H55.1V500.8H55.9V505.4H56.7V512.8H57.5V511.8H58.4V510.3H59.2V501.9H60.0V504.4H60.8V500.2H61.6V506.8H62.4V500.1H63.2V496.8H64.0V490.0H64.8V488.8H65.7V491.8H66.5V483.1H67.3V485.6H68.1V480.1H68.9V483.5H69.7V486.1H70.5V487.3H71.3V476.8H72.2V464.2H73.0V471.3H73.8V462.4H74.6V460.7H75.4V466.2H76.2V457.8H77.0V454.4H77.8V462.3H78.7V461.7H79.5V451.3H80.3V447.5H81.1V438.8H81.9V447.0H82.7V456.2H83.5V452.4H84.3V452.0H85.2V439.9H86.0V437.2H86.8V444.5H87.6V430.3H88.4V435.7H89.2V436.4H90.0V431.5H90.8V440.7H91.7V439.9H92.5V440.2H93.3V435.3H94.1V411.3H94.9V414.3H95.7V443.7H96.5V428.0H97.3V436.0H98.2V419.6H99.0V416.7H99.8V426.8H100.6V428.1H101.4V422.9H102.2V421.4H103.0V427.4H103.8V431.0H104.7V427.9H105.5V425.4H106.3V419.2H107.1V422.1H107.9V427.8H108.7V439.8H109.5V437.2H110.3V438.1H111.2V442.0H112.0V457.6H112.8V435.9H113.6V458.3H114.4V449.0H115.2V451.4H116.0V462.1H116.8V464.5H117.7V475.9H118.5V482.3H119.3V477.7H120.1V460.2H120.9V484.8H121.7V495.1H122.5V492.2H123.3V496.2H124.2V498.9H125.0V488.7H125.8V510.1H126.6V514.9H127.4V512.3H128.2V504.5H129.0V508.5H129.8V508.1H130.7V515.6H131.5V511.0H132.3V510.8H133.1V517.9H133.9V515.3H134.7V509.9H135.5V516.4H136.3V522.1H137.2V522.4H138.0V523.2H138.8V523.2H139.6V525.7H140.4V529.4H141.2V535.1H142.0V529.7H142.8V532.7H143.7V533.3H144.5V534.5H145.3V530.3H146.1V530.8H146.9V536.5H147.7V535.5H148.5V537.0H149.3V538.7H150.2V539.9H151.0V539.1H151.8V539.1H152.6V542.3H153.4V540.3H154.2V542.4H155.0V544.5H155.8V542.8H156.7V541.5H157.5V542.3H158.3V542.3H159.1V543.4H159.9V543.3H160.7V541.6H161.5V543.3H162.3V541.1H163.2V546.6H164.0V543.1H164.8V543.4H165.6V543.3H166.4V542.9H167.2V542.8H168.0V544.0H168.8V547.5H169.7V547.4H170.5V543.5H171.3V543.9H172.1V544.1H172.9V543.9H173.7V543.9H174.5V540.4H175.3V541.9H176.2V543.5H177.0V544.2H177.8V541.2H178.6V540.0H179.4V539.0H180.2V540.6H181.0V544.4H181.8V540.1H182.7V541.3H183.5V543.2H184.3V543.4H185.1V542.8H185.9V541.6H186.7V542.0H187.5V541.3H188.3V540.5H189.2V546.0H190.0V542.8H190.8V543.7H191.6V545.4H192.4V541.9H193.2V538.1H194.0V544.9H194.8V544.5H195.7V544.1H196.5V542.9H197.3V542.8H198.1V543.6H198.9V543.9H199.7V549.1H200.5V544.6H201.3V541.5H202.2V540.5H203.0V541.6H203.8V545.4H204.6V546.8H205.4V543.4H206.2V539.1H207.0V541.8H207.8V549.1H208.7V541.3H209.5V544.0H210.3V543.6H211.1V542.4H211.9V543.8H212.7V547.3H213.5V544.2H214.3V542.2H215.2V544.5H216.0V546.3H216.8V546.6H217.6V545.1H218.4V539.4H219.2V540.1H220.0V538.2H220.8V541.9H221.7V544.9H222.5V545.4H223.3V545.2H224.1V544.0H224.9V541.6H225.7V539.6H226.5V541.6H227.3V543.6H228.2V540.4H229.0V544.1H229.8V544.0H230.6V545.2H231.4V543.9H232.2V542.9H233.0V542.9H233.8V545.0H234.7V543.9H235.5V544.1H236.3V546.6H237.1V548.3H237.9V546.0H238.7V543.7H239.5V543.7H240.3V541.1H241.2V543.2H242.0V545.7H242.8V545.2H243.6V544.1H244.4V544.2H245.2V545.0H246.0V543.2H246.8V540.2H247.7V542.5H248.5V544.9H249.3V546.7H250.1V548.1H250.9V546.2H251.7V546.0H252.5V546.0H253.1" fill="none" stroke="#000" stroke-width="1.55" stroke-linejoin="round"/>
<line x1="50.00" y1="712.70" x2="50.00" y2="907.00" stroke="#000" stroke-width="2.6" stroke-linecap="butt"/>
<line x1="49.00" y1="906.00" x2="251.80" y2="906.00" stroke="#000" stroke-width="1.7" stroke-linecap="butt"/>
<line x1="50.00" y1="713.20" x2="251.90" y2="713.20" stroke="#000" stroke-width="1.35" stroke-linecap="butt"/>
<line x1="251.30" y1="713.20" x2="251.30" y2="906.00" stroke="#000" stroke-width="1.4" stroke-linecap="butt"/>
<line x1="46.00" y1="906.00" x2="50.00" y2="906.00" stroke="#000" stroke-width="1.8" stroke-linecap="butt"/>
<line x1="47.30" y1="898.36" x2="50.00" y2="898.36" stroke="#000" stroke-width="1.5" stroke-linecap="butt"/>
<line x1="47.30" y1="890.72" x2="50.00" y2="890.72" stroke="#000" stroke-width="1.5" stroke-linecap="butt"/>
<line x1="47.30" y1="883.08" x2="50.00" y2="883.08" stroke="#000" stroke-width="1.5" stroke-linecap="butt"/>
<line x1="47.30" y1="875.44" x2="50.00" y2="875.44" stroke="#000" stroke-width="1.5" stroke-linecap="butt"/>
<line x1="46.00" y1="867.80" x2="50.00" y2="867.80" stroke="#000" stroke-width="1.8" stroke-linecap="butt"/>
<line x1="47.30" y1="860.16" x2="50.00" y2="860.16" stroke="#000" stroke-width="1.5" stroke-linecap="butt"/>
<line x1="47.30" y1="852.52" x2="50.00" y2="852.52" stroke="#000" stroke-width="1.5" stroke-linecap="butt"/>
<line x1="47.30" y1="844.88" x2="50.00" y2="844.88" stroke="#000" stroke-width="1.5" stroke-linecap="butt"/>
<line x1="47.30" y1="837.24" x2="50.00" y2="837.24" stroke="#000" stroke-width="1.5" stroke-linecap="butt"/>
<line x1="46.00" y1="829.60" x2="50.00" y2="829.60" stroke="#000" stroke-width="1.8" stroke-linecap="butt"/>
<line x1="47.30" y1="821.96" x2="50.00" y2="821.96" stroke="#000" stroke-width="1.5" stroke-linecap="butt"/>
<line x1="47.30" y1="814.32" x2="50.00" y2="814.32" stroke="#000" stroke-width="1.5" stroke-linecap="butt"/>
<line x1="47.30" y1="806.68" x2="50.00" y2="806.68" stroke="#000" stroke-width="1.5" stroke-linecap="butt"/>
<line x1="47.30" y1="799.04" x2="50.00" y2="799.04" stroke="#000" stroke-width="1.5" stroke-linecap="butt"/>
<line x1="46.00" y1="791.40" x2="50.00" y2="791.40" stroke="#000" stroke-width="1.8" stroke-linecap="butt"/>
<line x1="47.30" y1="783.76" x2="50.00" y2="783.76" stroke="#000" stroke-width="1.5" stroke-linecap="butt"/>
<line x1="47.30" y1="776.12" x2="50.00" y2="776.12" stroke="#000" stroke-width="1.5" stroke-linecap="butt"/>
<line x1="47.30" y1="768.48" x2="50.00" y2="768.48" stroke="#000" stroke-width="1.5" stroke-linecap="butt"/>
<line x1="47.30" y1="760.84" x2="50.00" y2="760.84" stroke="#000" stroke-width="1.5" stroke-linecap="butt"/>
<line x1="46.00" y1="753.20" x2="50.00" y2="753.20" stroke="#000" stroke-width="1.8" stroke-linecap="butt"/>
<line x1="47.30" y1="745.56" x2="50.00" y2="745.56" stroke="#000" stroke-width="1.5" stroke-linecap="butt"/>
<line x1="47.30" y1="737.92" x2="50.00" y2="737.92" stroke="#000" stroke-width="1.5" stroke-linecap="butt"/>
<line x1="47.30" y1="730.28" x2="50.00" y2="730.28" stroke="#000" stroke-width="1.5" stroke-linecap="butt"/>
<line x1="47.30" y1="722.64" x2="50.00" y2="722.64" stroke="#000" stroke-width="1.5" stroke-linecap="butt"/>
<line x1="46.00" y1="715.00" x2="50.00" y2="715.00" stroke="#000" stroke-width="1.8" stroke-linecap="butt"/>
<text x="46.40" y="910.84" font-size="16.3" text-anchor="end" font-family="Liberation Sans, sans-serif" font-weight="bold" stroke="#000" stroke-width="0.75" stroke-linejoin="round" >0</text>
<text x="46.40" y="872.64" font-size="16.3" text-anchor="end" font-family="Liberation Sans, sans-serif" font-weight="bold" stroke="#000" stroke-width="0.75" stroke-linejoin="round" >20</text>
<text x="46.40" y="834.44" font-size="16.3" text-anchor="end" font-family="Liberation Sans, sans-serif" font-weight="bold" stroke="#000" stroke-width="0.75" stroke-linejoin="round" >40</text>
<text x="46.40" y="796.24" font-size="16.3" text-anchor="end" font-family="Liberation Sans, sans-serif" font-weight="bold" stroke="#000" stroke-width="0.75" stroke-linejoin="round" >60</text>
<text x="46.40" y="758.04" font-size="16.3" text-anchor="end" font-family="Liberation Sans, sans-serif" font-weight="bold" stroke="#000" stroke-width="0.75" stroke-linejoin="round" >80</text>
<text x="46.40" y="719.84" font-size="16.3" text-anchor="end" font-family="Liberation Sans, sans-serif" font-weight="bold" stroke="#000" stroke-width="0.75" stroke-linejoin="round" >100</text>
<line x1="50.00" y1="906.00" x2="50.00" y2="910.00" stroke="#000" stroke-width="1.4" stroke-linecap="butt"/>
<line x1="65.15" y1="906.00" x2="65.15" y2="908.60" stroke="#000" stroke-width="0.9" stroke-linecap="butt"/>
<line x1="74.01" y1="906.00" x2="74.01" y2="908.60" stroke="#000" stroke-width="0.9" stroke-linecap="butt"/>
<line x1="80.30" y1="906.00" x2="80.30" y2="908.60" stroke="#000" stroke-width="0.9" stroke-linecap="butt"/>
<line x1="85.18" y1="906.00" x2="85.18" y2="908.60" stroke="#000" stroke-width="0.9" stroke-linecap="butt"/>
<line x1="89.16" y1="906.00" x2="89.16" y2="908.60" stroke="#000" stroke-width="0.9" stroke-linecap="butt"/>
<line x1="92.53" y1="906.00" x2="92.53" y2="908.60" stroke="#000" stroke-width="0.9" stroke-linecap="butt"/>
<line x1="95.45" y1="906.00" x2="95.45" y2="908.60" stroke="#000" stroke-width="0.9" stroke-linecap="butt"/>
<line x1="98.02" y1="906.00" x2="98.02" y2="908.60" stroke="#000" stroke-width="0.9" stroke-linecap="butt"/>
<text x="39.40" y="924.80" font-size="16.3" text-anchor="start" font-family="Liberation Sans, sans-serif" font-weight="bold" stroke="#000" stroke-width="0.75" stroke-linejoin="round" textLength="16.9" lengthAdjust="spacingAndGlyphs" >10</text>
<text x="56.60" y="921.20" font-size="10.6" text-anchor="start" font-family="Liberation Sans, sans-serif" font-weight="bold" stroke="#000" stroke-width="0.75" stroke-linejoin="round" >0</text>
<line x1="100.33" y1="906.00" x2="100.33" y2="910.00" stroke="#000" stroke-width="1.4" stroke-linecap="butt"/>
<line x1="115.47" y1="906.00" x2="115.47" y2="908.60" stroke="#000" stroke-width="0.9" stroke-linecap="butt"/>
<line x1="124.34" y1="906.00" x2="124.34" y2="908.60" stroke="#000" stroke-width="0.9" stroke-linecap="butt"/>
<line x1="130.62" y1="906.00" x2="130.62" y2="908.60" stroke="#000" stroke-width="0.9" stroke-linecap="butt"/>
<line x1="135.50" y1="906.00" x2="135.50" y2="908.60" stroke="#000" stroke-width="0.9" stroke-linecap="butt"/>
<line x1="139.49" y1="906.00" x2="139.49" y2="908.60" stroke="#000" stroke-width="0.9" stroke-linecap="butt"/>
<line x1="142.85" y1="906.00" x2="142.85" y2="908.60" stroke="#000" stroke-width="0.9" stroke-linecap="butt"/>
<line x1="145.77" y1="906.00" x2="145.77" y2="908.60" stroke="#000" stroke-width="0.9" stroke-linecap="butt"/>
<line x1="148.35" y1="906.00" x2="148.35" y2="908.60" stroke="#000" stroke-width="0.9" stroke-linecap="butt"/>
<text x="88.60" y="924.80" font-size="16.3" text-anchor="start" font-family="Liberation Sans, sans-serif" font-weight="bold" stroke="#000" stroke-width="0.75" stroke-linejoin="round" textLength="16.9" lengthAdjust="spacingAndGlyphs" >10</text>
<text x="105.80" y="921.20" font-size="10.6" text-anchor="start" font-family="Liberation Sans, sans-serif" font-weight="bold" stroke="#000" stroke-width="0.75" stroke-linejoin="round" >1</text>
<line x1="150.65" y1="906.00" x2="150.65" y2="910.00" stroke="#000" stroke-width="1.4" stroke-linecap="butt"/>
<line x1="165.80" y1="906.00" x2="165.80" y2="908.60" stroke="#000" stroke-width="0.9" stroke-linecap="butt"/>
<line x1="174.66" y1="906.00" x2="174.66" y2="908.60" stroke="#000" stroke-width="0.9" stroke-linecap="butt"/>
<line x1="180.95" y1="906.00" x2="180.95" y2="908.60" stroke="#000" stroke-width="0.9" stroke-linecap="butt"/>
<line x1="185.83" y1="906.00" x2="185.83" y2="908.60" stroke="#000" stroke-width="0.9" stroke-linecap="butt"/>
<line x1="189.81" y1="906.00" x2="189.81" y2="908.60" stroke="#000" stroke-width="0.9" stroke-linecap="butt"/>
<line x1="193.18" y1="906.00" x2="193.18" y2="908.60" stroke="#000" stroke-width="0.9" stroke-linecap="butt"/>
<line x1="196.10" y1="906.00" x2="196.10" y2="908.60" stroke="#000" stroke-width="0.9" stroke-linecap="butt"/>
<line x1="198.67" y1="906.00" x2="198.67" y2="908.60" stroke="#000" stroke-width="0.9" stroke-linecap="butt"/>
<text x="137.80" y="924.80" font-size="16.3" text-anchor="start" font-family="Liberation Sans, sans-serif" font-weight="bold" stroke="#000" stroke-width="0.75" stroke-linejoin="round" textLength="16.9" lengthAdjust="spacingAndGlyphs" >10</text>
<text x="155.00" y="921.20" font-size="10.6" text-anchor="start" font-family="Liberation Sans, sans-serif" font-weight="bold" stroke="#000" stroke-width="0.75" stroke-linejoin="round" >2</text>
<line x1="200.98" y1="906.00" x2="200.98" y2="910.00" stroke="#000" stroke-width="1.4" stroke-linecap="butt"/>
<line x1="216.12" y1="906.00" x2="216.12" y2="908.60" stroke="#000" stroke-width="0.9" stroke-linecap="butt"/>
<line x1="224.99" y1="906.00" x2="224.99" y2="908.60" stroke="#000" stroke-width="0.9" stroke-linecap="butt"/>
<line x1="231.27" y1="906.00" x2="231.27" y2="908.60" stroke="#000" stroke-width="0.9" stroke-linecap="butt"/>
<line x1="236.15" y1="906.00" x2="236.15" y2="908.60" stroke="#000" stroke-width="0.9" stroke-linecap="butt"/>
<line x1="240.14" y1="906.00" x2="240.14" y2="908.60" stroke="#000" stroke-width="0.9" stroke-linecap="butt"/>
<line x1="243.50" y1="906.00" x2="243.50" y2="908.60" stroke="#000" stroke-width="0.9" stroke-linecap="butt"/>
<line x1="246.42" y1="906.00" x2="246.42" y2="908.60" stroke="#000" stroke-width="0.9" stroke-linecap="butt"/>
<line x1="249.00" y1="906.00" x2="249.00" y2="908.60" stroke="#000" stroke-width="0.9" stroke-linecap="butt"/>
<text x="187.00" y="924.80" font-size="16.3" text-anchor="start" font-family="Liberation Sans, sans-serif" font-weight="bold" stroke="#000" stroke-width="0.75" stroke-linejoin="round" textLength="16.9" lengthAdjust="spacingAndGlyphs" >10</text>
<text x="204.20" y="921.20" font-size="10.6" text-anchor="start" font-family="Liberation Sans, sans-serif" font-weight="bold" stroke="#000" stroke-width="0.75" stroke-linejoin="round" >3</text>
<line x1="251.30" y1="906.00" x2="251.30" y2="910.00" stroke="#000" stroke-width="1.4" stroke-linecap="butt"/>
<text x="236.20" y="924.80" font-size="16.3" text-anchor="start" font-family="Liberation Sans, sans-serif" font-weight="bold" stroke="#000" stroke-width="0.75" stroke-linejoin="round" textLength="16.9" lengthAdjust="spacingAndGlyphs" >10</text>
<text x="253.40" y="921.20" font-size="10.6" text-anchor="start" font-family="Liberation Sans, sans-serif" font-weight="bold" stroke="#000" stroke-width="0.75" stroke-linejoin="round" >4</text>
<text x="146.75" y="945.00" font-size="17" text-anchor="middle" font-family="Liberation Sans, sans-serif" font-weight="bold" stroke="#000" stroke-width="0.75" stroke-linejoin="round" >FL</text>
<text x="16.20" y="810.00" font-size="17" text-anchor="middle" font-family="Liberation Sans, sans-serif" font-weight="bold" stroke="#000" stroke-width="0.75" stroke-linejoin="round" textLength="49.5" lengthAdjust="spacingAndGlyphs" transform="rotate(-90 16.20 810.00)" >Count</text>
<text x="-0.60" y="672.40" font-size="23.5" text-anchor="start" font-family="Liberation Sans, sans-serif" font-weight="bold" stroke="#000" stroke-width="0.75" stroke-linejoin="round" >E</text>
<text x="97.20" y="704.60" font-size="17" text-anchor="start" font-family="Liberation Sans, sans-serif" font-weight="bold" stroke="#000" stroke-width="0.75" stroke-linejoin="round" textLength="24.8" lengthAdjust="spacingAndGlyphs" >Mn</text>
<text x="122.00" y="699.60" font-size="10.5" text-anchor="start" font-family="Liberation Sans, sans-serif" font-weight="bold" stroke="#000" stroke-width="0.75" stroke-linejoin="round" textLength="12.6" lengthAdjust="spacingAndGlyphs" >2+</text>
<text x="135.60" y="704.60" font-size="17" text-anchor="start" font-family="Liberation Sans, sans-serif" font-weight="bold" stroke="#000" stroke-width="0.75" stroke-linejoin="round" textLength="62.6" lengthAdjust="spacingAndGlyphs" >-treated</text>
<text x="55.50" y="738.00" font-size="17" text-anchor="start" font-family="Liberation Sans, sans-serif" font-weight="bold" stroke="#000" stroke-width="0.75" stroke-linejoin="round" textLength="55.0" lengthAdjust="spacingAndGlyphs" ><tspan font-weight="normal" stroke-width="0.25">&#946;</tspan>3-null</text>
<text x="149.20" y="827.00" font-size="17" text-anchor="start" font-family="Liberation Sans, sans-serif" font-weight="bold" stroke="#000" stroke-width="0.75" stroke-linejoin="round" textLength="25.5" lengthAdjust="spacingAndGlyphs" >WT</text>
<path d="M51.0 838.6H51.8V827.2H52.6V825.8H53.4V825.9H54.2V822.8H55.1V813.2H55.9V813.3H56.7V814.9H57.5V825.1H58.3V830.3H59.1V832.5H59.9V833.0H60.8V840.0H61.6V816.3H62.4V818.5H63.2V821.3H64.0V819.1H64.8V826.0H65.6V823.8H66.4V824.5H67.2V833.9H68.1V818.2H68.9V820.4H69.7V821.6H70.5V829.0H71.3V820.8H72.1V803.1H72.9V811.6H73.8V810.3H74.6V796.6H75.4V792.4H76.2V809.9H77.0V786.0H77.8V799.6H78.6V782.4H79.4V792.4H80.2V779.8H81.1V766.6H81.9V778.2H82.7V785.4H83.5V783.3H84.3V777.9H85.1V765.1H85.9V767.1H86.8V753.6H87.6V763.2H88.4V777.3H89.2V772.9H90.0V742.4H90.8V753.4H91.6V744.3H92.4V755.6H93.2V761.3H94.1V760.4H94.9V774.1H95.7V778.2H96.5V774.6H97.3V773.4H98.1V761.9H98.9V758.7H99.8V770.6H100.6V791.8H101.4V780.1H102.2V780.0H103.0V784.0H103.8V798.9H104.6V797.4H105.4V807.0H106.2V819.9H107.1V814.7H107.9V824.0H108.7V817.5H109.5V822.9H110.3V821.0H111.1V807.4H111.9V812.8H112.8V825.5H113.6V816.7H114.4V840.3H115.2V832.8H116.0V838.6H116.8V853.7H117.6V860.9H118.4V854.6H119.2V853.1H120.1V853.1H120.9V864.5H121.7V866.6H122.5V848.2H123.3V861.1H124.1V872.4H124.9V861.0H125.8V875.3H126.6V883.6H127.4V865.8H128.2V876.4H129.0V878.6H129.8V888.7H130.6V881.5H131.4V879.1H132.2V881.5H133.1V879.4H133.9V880.9H134.7V880.8H135.5V877.6H136.3V877.8H137.1V880.4H137.9V884.8H138.8V886.7H139.6V886.2H140.4V888.2H141.2V891.4H142.0V888.4H142.8V887.2H143.6V892.3H144.4V894.7H145.2V891.5H146.1V895.5H146.9V898.4H147.7V896.8H148.5V898.3H149.3V895.3H150.1V896.2H150.9V895.0H151.8V885.5H152.6V893.0H153.4V898.5H154.2V903.9H155.0V901.7H155.8V900.7H156.6V895.7H157.4V893.3H158.2V895.2H159.1V896.2H159.9V896.5H160.7V897.2H161.5V898.8H162.3V897.6H163.1V900.3H163.9V902.3H164.8V899.2H165.6V896.2H166.4V900.3H167.2V903.1H168.0V898.1H168.8V893.2H169.6V898.9H170.4V900.3H171.2V898.2H172.1V896.6H172.9V899.9H173.7V898.7H174.5V899.4H175.3V901.7H176.1V899.9H176.9V899.3H177.8V900.9H178.6V899.0H179.4V895.9H180.2V898.1H181.0V898.1H181.8V899.9H182.6V902.4H183.4V904.0H184.2V905.7H185.1V902.0H185.9V900.4H186.7V898.8H187.5V897.9H188.3V899.7H189.1V900.5H189.9V898.8H190.8V900.1H191.6V901.5H192.4V897.4H193.2V899.7H194.0V900.3H194.8V897.7H195.6V901.7H196.4V902.3H197.2V901.4H198.1V903.2H198.9V905.0H199.7V904.7H200.5V903.5H201.3V901.4H202.1V898.7H202.9V898.9H203.8V899.5H204.6V900.5H205.4V905.4H206.2V904.0H207.0V903.2H207.8V903.2H208.6V901.2H209.4V899.2H210.2V899.0H211.1V900.5H211.9V902.1H212.7V903.0H213.5V903.9H214.3V900.4H215.1V896.3H215.9V897.2H216.8V895.8H217.6V899.0H218.4V905.7H219.2V902.2H220.0V898.8H220.8V900.5H221.6V900.2H222.4V902.6H223.2V905.7H224.1V903.1H224.9V901.0H225.7V901.1H226.5V901.6H227.3V901.8H228.1V903.0H228.9V901.3H229.8V902.2H230.6V900.7H231.4V898.3H232.2V900.9H233.0V903.3H233.8V905.7H234.6V904.2H235.4V901.5H236.2V899.6H237.1V903.1H237.9V903.2H238.7V905.7H239.5V901.8H240.3V901.1H241.1V901.5H241.9V903.4H242.8V905.7H243.6V904.9H244.4V902.8H245.2V901.8H246.0V904.6H246.8V901.5H247.6V903.7H248.4V904.7H249.2V900.2H250.1V901.2H250.9V900.7H251.0" fill="none" stroke="#000" stroke-width="1.3" stroke-linejoin="round"/>
<path d="M51.0 862.5H51.8V868.8H52.6V860.1H53.4V848.7H54.2V861.8H55.1V862.1H55.9V860.3H56.7V878.4H57.5V858.1H58.3V851.0H59.1V864.9H59.9V860.9H60.8V857.0H61.6V857.7H62.4V853.5H63.2V852.6H64.0V854.0H64.8V853.6H65.6V843.2H66.4V843.7H67.2V842.5H68.1V843.5H68.9V844.1H69.7V839.8H70.5V838.5H71.3V837.0H72.1V836.8H72.9V837.8H73.8V834.0H74.6V829.6H75.4V826.8H76.2V830.9H77.0V828.0H77.8V842.1H78.6V837.1H79.4V828.3H80.2V827.0H81.1V825.0H81.9V836.8H82.7V836.6H83.5V832.5H84.3V818.6H85.1V809.8H85.9V821.4H86.8V822.4H87.6V819.5H88.4V807.4H89.2V803.7H90.0V805.3H90.8V796.5H91.6V811.8H92.4V811.9H93.2V810.3H94.1V805.6H94.9V803.2H95.7V808.8H96.5V792.4H97.3V789.5H98.1V779.6H98.9V781.8H99.8V790.4H100.6V790.1H101.4V790.0H102.2V798.6H103.0V791.6H103.8V794.8H104.6V798.0H105.4V803.3H106.2V804.7H107.1V811.6H107.9V813.6H108.7V806.2H109.5V803.4H110.3V825.0H111.1V822.9H111.9V820.0H112.8V819.7H113.6V818.5H114.4V820.4H115.2V818.7H116.0V813.9H116.8V815.5H117.6V815.4H118.4V818.8H119.2V822.0H120.1V822.7H120.9V826.5H121.7V819.1H122.5V819.4H123.3V819.5H124.1V816.7H124.9V823.1H125.8V813.6H126.6V812.1H127.4V818.3H128.2V824.4H129.0V819.7H129.8V822.8H130.6V824.3H131.4V818.5H132.2V817.7H133.1V822.9H133.9V813.2H134.7V797.3H135.5V816.4H136.3V816.9H137.1V819.7H137.9V822.1H138.8V820.9H139.6V833.8H140.4V838.8H141.2V830.7H142.0V830.0H142.8V833.5H143.6V831.1H144.4V837.9H145.2V841.7H146.1V846.7H146.9V837.7H147.7V844.5H148.5V846.2H149.3V846.2H150.1V851.3H150.9V838.5H151.8V849.5H152.6V849.5H153.4V858.9H154.2V858.6H155.0V859.1H155.8V863.7H156.6V858.2H157.4V863.9H158.2V871.6H159.1V872.5H159.9V867.9H160.7V868.4H161.5V872.4H162.3V874.2H163.1V886.5H163.9V870.5H164.8V862.6H165.6V868.0H166.4V875.3H167.2V875.2H168.0V878.4H168.8V881.3H169.6V882.3H170.4V872.5H171.2V876.6H172.1V880.6H172.9V876.8H173.7V890.6H174.5V893.3H175.3V892.1H176.1V888.1H176.9V890.7H177.8V890.0H178.6V889.5H179.4V890.8H180.2V892.9H181.0V893.3H181.8V892.3H182.6V893.6H183.4V895.4H184.2V891.4H185.1V890.6H185.9V891.4H186.7V893.1H187.5V888.8H188.3V891.7H189.1V895.7H189.9V897.3H190.8V896.6H191.6V893.8H192.4V895.0H193.2V904.5H194.0V897.4H194.8V896.9H195.6V893.8H196.4V894.0H197.2V897.0H198.1V892.5H198.9V901.2H199.7V895.1H200.5V895.3H201.3V896.2H202.1V897.0H202.9V898.3H203.8V899.0H204.6V891.7H205.4V893.9H206.2V893.6H207.0V897.2H207.8V897.6H208.6V898.9H209.4V899.1H210.2V899.9H211.1V899.4H211.9V900.0H212.7V898.9H213.5V898.1H214.3V900.7H215.1V901.0H215.9V900.3H216.8V898.2H217.6V898.7H218.4V899.5H219.2V899.1H220.0V896.7H220.8V895.3H221.6V898.6H222.4V898.6H223.2V899.4H224.1V901.9H224.9V902.8H225.7V901.6H226.5V900.9H227.3V900.4H228.1V897.1H228.9V900.9H229.8V898.7H230.6V903.8H231.4V903.1H232.2V898.1H233.0V898.6H233.8V900.7H234.6V900.4H235.4V896.6H236.2V898.7H237.1V900.9H237.9V898.9H238.7V896.5H239.5V898.4H240.3V899.5H241.1V899.4H241.9V899.5H242.8V901.2H243.6V900.3H244.4V897.7H245.2V896.1H246.0V901.2H246.8V901.6H247.6V900.7H248.4V896.3H249.2V904.9H250.1V902.2H250.9V868.8H251.0" fill="none" stroke="#000" stroke-width="1.3" stroke-linejoin="round"/>
<line x1="250.40" y1="868.75" x2="250.40" y2="906.00" stroke="#000" stroke-width="1.9" stroke-linecap="butt"/>
<line x1="318.00" y1="316.32" x2="318.00" y2="550.80" stroke="#000" stroke-width="2.2" stroke-linecap="butt"/>
<line x1="310.00" y1="549.80" x2="519.50" y2="549.80" stroke="#000" stroke-width="2.1" stroke-linecap="butt"/>
<line x1="310.50" y1="549.80" x2="318.00" y2="549.80" stroke="#000" stroke-width="2.0" stroke-linecap="butt"/>
<text x="308.80" y="555.40" font-size="18.5" text-anchor="end" font-family="Liberation Sans, sans-serif" font-weight="bold" stroke="#000" stroke-width="0.75" stroke-linejoin="round" textLength="8.6" lengthAdjust="spacingAndGlyphs" >0</text>
<line x1="310.50" y1="491.68" x2="318.00" y2="491.68" stroke="#000" stroke-width="2.0" stroke-linecap="butt"/>
<text x="308.80" y="497.28" font-size="18.5" text-anchor="end" font-family="Liberation Sans, sans-serif" font-weight="bold" stroke="#000" stroke-width="0.75" stroke-linejoin="round" textLength="17.6" lengthAdjust="spacingAndGlyphs" >20</text>
<line x1="310.50" y1="433.56" x2="318.00" y2="433.56" stroke="#000" stroke-width="2.0" stroke-linecap="butt"/>
<text x="308.80" y="439.16" font-size="18.5" text-anchor="end" font-family="Liberation Sans, sans-serif" font-weight="bold" stroke="#000" stroke-width="0.75" stroke-linejoin="round" textLength="17.6" lengthAdjust="spacingAndGlyphs" >40</text>
<line x1="310.50" y1="375.44" x2="318.00" y2="375.44" stroke="#000" stroke-width="2.0" stroke-linecap="butt"/>
<text x="308.80" y="381.04" font-size="18.5" text-anchor="end" font-family="Liberation Sans, sans-serif" font-weight="bold" stroke="#000" stroke-width="0.75" stroke-linejoin="round" textLength="17.6" lengthAdjust="spacingAndGlyphs" >60</text>
<line x1="310.50" y1="317.32" x2="318.00" y2="317.32" stroke="#000" stroke-width="2.0" stroke-linecap="butt"/>
<text x="308.80" y="322.92" font-size="18.5" text-anchor="end" font-family="Liberation Sans, sans-serif" font-weight="bold" stroke="#000" stroke-width="0.75" stroke-linejoin="round" textLength="17.6" lengthAdjust="spacingAndGlyphs" >80</text>
<rect x="325.6" y="520.0" width="33.6" height="29.8" fill="#fff" stroke="#000" stroke-width="1.9"/>
<line x1="342.40" y1="520.00" x2="342.40" y2="508.70" stroke="#000" stroke-width="1.9" stroke-linecap="butt"/>
<line x1="333.60" y1="508.70" x2="351.20" y2="508.70" stroke="#000" stroke-width="2.0" stroke-linecap="butt"/>
<rect x="375.8" y="524.3" width="33.2" height="25.5" fill="#fff" stroke="#000" stroke-width="1.9"/>
<line x1="392.40" y1="524.30" x2="392.40" y2="521.00" stroke="#000" stroke-width="1.9" stroke-linecap="butt"/>
<line x1="383.60" y1="521.00" x2="401.20" y2="521.00" stroke="#000" stroke-width="2.0" stroke-linecap="butt"/>
<rect x="425.4" y="390.2" width="33.4" height="159.6" fill="#fff" stroke="#000" stroke-width="1.9"/>
<line x1="442.10" y1="390.20" x2="442.10" y2="367.00" stroke="#000" stroke-width="1.9" stroke-linecap="butt"/>
<line x1="433.30" y1="367.00" x2="450.90" y2="367.00" stroke="#000" stroke-width="2.0" stroke-linecap="butt"/>
<rect x="474.4" y="481.2" width="33.7" height="68.6" fill="#fff" stroke="#000" stroke-width="1.9"/>
<line x1="491.25" y1="481.20" x2="491.25" y2="468.50" stroke="#000" stroke-width="1.9" stroke-linecap="butt"/>
<line x1="482.45" y1="468.50" x2="500.05" y2="468.50" stroke="#000" stroke-width="2.0" stroke-linecap="butt"/>
<text x="267.00" y="311.30" font-size="23" text-anchor="start" font-family="Liberation Sans, sans-serif" font-weight="bold" stroke="#000" stroke-width="0.75" stroke-linejoin="round" >D</text>
<text x="286.30" y="434.50" font-size="16.5" text-anchor="middle" font-family="Liberation Sans, sans-serif" font-weight="bold" stroke="#000" stroke-width="0.75" stroke-linejoin="round" textLength="28.5" lengthAdjust="spacingAndGlyphs" transform="rotate(-90 286.30 434.50)" >MFI</text>
<path d="M377.6 329.8 C378.4 321.9 381.1 319.4 386.6 319.4 L503.3 319.4 C508.8 319.4 511.5 321.9 512.3 329.8" fill="none" stroke="#000" stroke-width="2.3" stroke-linecap="butt"/>
<text x="440.20" y="315.20" font-size="17" text-anchor="middle" font-family="Liberation Sans, sans-serif" font-weight="bold" stroke="#000" stroke-width="0.75" stroke-linejoin="round" textLength="63.5" lengthAdjust="spacingAndGlyphs" >P=0.005</text>
<path d="M333.2 364.6 C334.0 356.3 336.7 353.8 342.2 353.8 L432.6 353.8 C438.1 353.8 441.0 356.8 441.6 365.5 C442.2 356.8 445.1 353.8 450.6 353.8 L503.3 353.8 C508.8 353.8 511.5 356.3 512.3 364.6" fill="none" stroke="#000" stroke-width="2.3"/>
<text x="379.50" y="350.20" font-size="17" text-anchor="middle" font-family="Liberation Sans, sans-serif" font-weight="bold" stroke="#000" stroke-width="0.75" stroke-linejoin="round" textLength="63.8" lengthAdjust="spacingAndGlyphs" >P=0.008</text>
<text x="477.80" y="350.20" font-size="17" text-anchor="middle" font-family="Liberation Sans, sans-serif" font-weight="bold" stroke="#000" stroke-width="0.75" stroke-linejoin="round" textLength="61.5" lengthAdjust="spacingAndGlyphs" >P=0.020</text>
<path d="M327.6 504.6 C328.4 495.7 331.1 493.2 336.6 493.2 L401.0 493.2 C406.5 493.2 409.2 495.7 410.0 504.6" fill="none" stroke="#000" stroke-width="2.3" stroke-linecap="butt"/>
<text x="368.40" y="485.20" font-size="17" text-anchor="middle" font-family="Liberation Sans, sans-serif" font-weight="bold" stroke="#000" stroke-width="0.75" stroke-linejoin="round" textLength="45.5" lengthAdjust="spacingAndGlyphs" >P=NS</text>
<text x="347.20" y="568.00" font-size="16.5" text-anchor="end" font-family="Liberation Sans, sans-serif" font-weight="bold" stroke="#000" stroke-width="0.75" stroke-linejoin="round" textLength="26.0" lengthAdjust="spacingAndGlyphs" transform="rotate(-30 347.20 568.00)" >WT</text>
<text x="398.00" y="565.50" font-size="16.5" text-anchor="end" font-family="Liberation Sans, sans-serif" font-weight="bold" stroke="#000" stroke-width="0.75" stroke-linejoin="round" textLength="55.0" lengthAdjust="spacingAndGlyphs" transform="rotate(-30 398.00 565.50)" ><tspan font-weight="normal" stroke-width="0.25">&#946;</tspan>3-null</text>
<text x="452.00" y="568.20" font-size="16.5" text-anchor="end" font-family="Liberation Sans, sans-serif" font-weight="bold" stroke="#000" stroke-width="0.75" stroke-linejoin="round" textLength="26.0" lengthAdjust="spacingAndGlyphs" transform="rotate(-30 452.00 568.20)" >WT</text>
<text x="500.60" y="566.00" font-size="16.5" text-anchor="end" font-family="Liberation Sans, sans-serif" font-weight="bold" stroke="#000" stroke-width="0.75" stroke-linejoin="round" textLength="55.0" lengthAdjust="spacingAndGlyphs" transform="rotate(-30 500.60 566.00)" ><tspan font-weight="normal" stroke-width="0.25">&#946;</tspan>3-null</text>
<path d="M318.2 596.7 C318.7 601.4 321.2 602.9 325.2 602.9 L353.2 602.9 C357.7 602.9 359.9 604.9 360.2 609.2 C360.5 604.9 362.7 602.9 367.2 602.9 L395.2 602.9 C399.2 602.9 401.7 601.4 402.2 596.7" fill="none" stroke="#000" stroke-width="2.4" stroke-linecap="butt"/>
<path d="M424.6 596.7 C425.1 601.4 427.6 602.9 431.6 602.9 L459.7 602.9 C464.2 602.9 466.4 604.9 466.7 609.2 C467.0 604.9 469.2 602.9 473.7 602.9 L501.8 602.9 C505.8 602.9 508.3 601.4 508.8 596.7" fill="none" stroke="#000" stroke-width="2.4" stroke-linecap="butt"/>
<text x="361.00" y="624.40" font-size="16.5" text-anchor="middle" font-family="Liberation Sans, sans-serif" font-weight="bold" stroke="#000" stroke-width="0.75" stroke-linejoin="round" textLength="23.5" lengthAdjust="spacingAndGlyphs" >NA</text>
<text x="467.00" y="624.40" font-size="16.5" text-anchor="middle" font-family="Liberation Sans, sans-serif" font-weight="bold" stroke="#000" stroke-width="0.75" stroke-linejoin="round" textLength="27.0" lengthAdjust="spacingAndGlyphs" >Act</text>
<line x1="317.00" y1="678.70" x2="317.00" y2="913.40" stroke="#000" stroke-width="2.2" stroke-linecap="butt"/>
<line x1="309.00" y1="912.40" x2="519.50" y2="912.40" stroke="#000" stroke-width="2.1" stroke-linecap="butt"/>
<line x1="309.50" y1="912.40" x2="317.00" y2="912.40" stroke="#000" stroke-width="2.0" stroke-linecap="butt"/>
<text x="307.80" y="918.00" font-size="18" text-anchor="end" font-family="Liberation Sans, sans-serif" font-weight="bold" stroke="#000" stroke-width="0.75" stroke-linejoin="round" textLength="8.6" lengthAdjust="spacingAndGlyphs" >0</text>
<line x1="309.50" y1="865.86" x2="317.00" y2="865.86" stroke="#000" stroke-width="2.0" stroke-linecap="butt"/>
<text x="307.80" y="871.46" font-size="18" text-anchor="end" font-family="Liberation Sans, sans-serif" font-weight="bold" stroke="#000" stroke-width="0.75" stroke-linejoin="round" textLength="17.6" lengthAdjust="spacingAndGlyphs" >20</text>
<line x1="309.50" y1="819.32" x2="317.00" y2="819.32" stroke="#000" stroke-width="2.0" stroke-linecap="butt"/>
<text x="307.80" y="824.92" font-size="18" text-anchor="end" font-family="Liberation Sans, sans-serif" font-weight="bold" stroke="#000" stroke-width="0.75" stroke-linejoin="round" textLength="17.6" lengthAdjust="spacingAndGlyphs" >40</text>
<line x1="309.50" y1="772.78" x2="317.00" y2="772.78" stroke="#000" stroke-width="2.0" stroke-linecap="butt"/>
<text x="307.80" y="778.38" font-size="18" text-anchor="end" font-family="Liberation Sans, sans-serif" font-weight="bold" stroke="#000" stroke-width="0.75" stroke-linejoin="round" textLength="17.6" lengthAdjust="spacingAndGlyphs" >60</text>
<line x1="309.50" y1="726.24" x2="317.00" y2="726.24" stroke="#000" stroke-width="2.0" stroke-linecap="butt"/>
<text x="307.80" y="731.84" font-size="18" text-anchor="end" font-family="Liberation Sans, sans-serif" font-weight="bold" stroke="#000" stroke-width="0.75" stroke-linejoin="round" textLength="17.6" lengthAdjust="spacingAndGlyphs" >80</text>
<line x1="309.50" y1="679.70" x2="317.00" y2="679.70" stroke="#000" stroke-width="2.0" stroke-linecap="butt"/>
<text x="307.80" y="685.30" font-size="18" text-anchor="end" font-family="Liberation Sans, sans-serif" font-weight="bold" stroke="#000" stroke-width="0.75" stroke-linejoin="round" textLength="26.2" lengthAdjust="spacingAndGlyphs" >100</text>
<rect x="324.3" y="888.8" width="33.9" height="23.6" fill="#fff" stroke="#000" stroke-width="1.9"/>
<line x1="341.25" y1="888.80" x2="341.25" y2="871.40" stroke="#000" stroke-width="1.9" stroke-linecap="butt"/>
<line x1="332.45" y1="871.40" x2="350.05" y2="871.40" stroke="#000" stroke-width="2.0" stroke-linecap="butt"/>
<rect x="374.4" y="892.0" width="33.6" height="20.4" fill="#fff" stroke="#000" stroke-width="1.9"/>
<line x1="391.20" y1="892.00" x2="391.20" y2="887.80" stroke="#000" stroke-width="1.9" stroke-linecap="butt"/>
<line x1="382.40" y1="887.80" x2="400.00" y2="887.80" stroke="#000" stroke-width="2.0" stroke-linecap="butt"/>
<rect x="424.6" y="748.5" width="33.4" height="163.9" fill="#fff" stroke="#000" stroke-width="1.9"/>
<line x1="441.30" y1="748.50" x2="441.30" y2="722.50" stroke="#000" stroke-width="1.9" stroke-linecap="butt"/>
<line x1="432.50" y1="722.50" x2="450.10" y2="722.50" stroke="#000" stroke-width="2.0" stroke-linecap="butt"/>
<rect x="473.8" y="861.1" width="33.2" height="51.3" fill="#fff" stroke="#000" stroke-width="1.9"/>
<line x1="490.40" y1="861.10" x2="490.40" y2="854.00" stroke="#000" stroke-width="1.9" stroke-linecap="butt"/>
<line x1="481.60" y1="854.00" x2="499.20" y2="854.00" stroke="#000" stroke-width="2.0" stroke-linecap="butt"/>
<text x="267.60" y="672.40" font-size="23.5" text-anchor="start" font-family="Liberation Sans, sans-serif" font-weight="bold" stroke="#000" stroke-width="0.75" stroke-linejoin="round" >F</text>
<text x="285.80" y="792.40" font-size="16.5" text-anchor="middle" font-family="Liberation Sans, sans-serif" font-weight="bold" stroke="#000" stroke-width="0.75" stroke-linejoin="round" textLength="30.2" lengthAdjust="spacingAndGlyphs" transform="rotate(-90 285.80 792.40)" >MFI</text>
<path d="M377.6 689.2 C378.4 680.1 381.1 677.6 386.6 677.6 L502.6 677.6 C508.1 677.6 510.8 680.1 511.6 689.2" fill="none" stroke="#000" stroke-width="2.3" stroke-linecap="butt"/>
<text x="433.30" y="674.20" font-size="17" text-anchor="middle" font-family="Liberation Sans, sans-serif" font-weight="bold" stroke="#000" stroke-width="0.75" stroke-linejoin="round" textLength="63.5" lengthAdjust="spacingAndGlyphs" >P=0.003</text>
<path d="M332.6 719.5 C333.4 711.1 336.1 708.6 341.6 708.6 L431.5 708.6 C437.0 708.6 439.9 711.6 440.5 720.5 C441.1 711.6 444.0 708.6 449.5 708.6 L502.6 708.6 C508.1 708.6 510.8 711.1 511.6 719.5" fill="none" stroke="#000" stroke-width="2.3"/>
<text x="385.30" y="705.20" font-size="17" text-anchor="middle" font-family="Liberation Sans, sans-serif" font-weight="bold" stroke="#000" stroke-width="0.75" stroke-linejoin="round" textLength="62.5" lengthAdjust="spacingAndGlyphs" >P=0.008</text>
<text x="475.30" y="705.20" font-size="17" text-anchor="middle" font-family="Liberation Sans, sans-serif" font-weight="bold" stroke="#000" stroke-width="0.75" stroke-linejoin="round" textLength="62.5" lengthAdjust="spacingAndGlyphs" >P=0.004</text>
<path d="M334.6 862.6 C335.4 852.7 338.1 850.2 343.6 850.2 L396.2 850.2 C401.7 850.2 404.4 852.7 405.2 862.6" fill="none" stroke="#000" stroke-width="2.3" stroke-linecap="butt"/>
<text x="368.50" y="841.80" font-size="17" text-anchor="middle" font-family="Liberation Sans, sans-serif" font-weight="bold" stroke="#000" stroke-width="0.75" stroke-linejoin="round" textLength="45.0" lengthAdjust="spacingAndGlyphs" >P=NS</text>
<text x="347.60" y="929.70" font-size="16.5" text-anchor="end" font-family="Liberation Sans, sans-serif" font-weight="bold" stroke="#000" stroke-width="0.75" stroke-linejoin="round" textLength="26.0" lengthAdjust="spacingAndGlyphs" transform="rotate(-30 347.60 929.70)" >WT</text>
<text x="397.50" y="930.20" font-size="16.5" text-anchor="end" font-family="Liberation Sans, sans-serif" font-weight="bold" stroke="#000" stroke-width="0.75" stroke-linejoin="round" textLength="55.0" lengthAdjust="spacingAndGlyphs" transform="rotate(-30 397.50 930.20)" ><tspan font-weight="normal" stroke-width="0.25">&#946;</tspan>3-null</text>
<text x="451.90" y="929.70" font-size="16.5" text-anchor="end" font-family="Liberation Sans, sans-serif" font-weight="bold" stroke="#000" stroke-width="0.75" stroke-linejoin="round" textLength="26.0" lengthAdjust="spacingAndGlyphs" transform="rotate(-30 451.90 929.70)" >WT</text>
<text x="501.00" y="930.50" font-size="16.5" text-anchor="end" font-family="Liberation Sans, sans-serif" font-weight="bold" stroke="#000" stroke-width="0.75" stroke-linejoin="round" textLength="55.0" lengthAdjust="spacingAndGlyphs" transform="rotate(-30 501.00 930.50)" ><tspan font-weight="normal" stroke-width="0.25">&#946;</tspan>3-null</text>
<path d="M317.5 960.8 C318.0 964.5 320.5 966.0 324.5 966.0 L352.6 966.0 C357.1 966.0 359.3 968.0 359.6 972.4 C359.9 968.0 362.1 966.0 366.6 966.0 L394.5 966.0 C398.5 966.0 401.0 964.5 401.5 960.8" fill="none" stroke="#000" stroke-width="2.4" stroke-linecap="butt"/>
<path d="M421.8 960.8 C422.3 964.5 424.8 966.0 428.8 966.0 L457.3 966.0 C461.8 966.0 464.0 968.0 464.3 972.4 C464.6 968.0 466.8 966.0 471.3 966.0 L499.1 966.0 C503.1 966.0 505.6 964.5 506.1 960.8" fill="none" stroke="#000" stroke-width="2.4" stroke-linecap="butt"/>
<text x="357.60" y="988.20" font-size="16.5" text-anchor="middle" font-family="Liberation Sans, sans-serif" font-weight="bold" stroke="#000" stroke-width="0.75" stroke-linejoin="round" textLength="22.5" lengthAdjust="spacingAndGlyphs" >NA</text>
<text x="407.60" y="988.20" font-size="17" text-anchor="start" font-family="Liberation Sans, sans-serif" font-weight="bold" stroke="#000" stroke-width="0.75" stroke-linejoin="round" textLength="25.0" lengthAdjust="spacingAndGlyphs" >Mn</text>
<text x="432.80" y="983.20" font-size="10.5" text-anchor="start" font-family="Liberation Sans, sans-serif" font-weight="bold" stroke="#000" stroke-width="0.75" stroke-linejoin="round" textLength="12.6" lengthAdjust="spacingAndGlyphs" >2+</text>
<text x="446.40" y="988.20" font-size="17" text-anchor="start" font-family="Liberation Sans, sans-serif" font-weight="bold" stroke="#000" stroke-width="0.75" stroke-linejoin="round" textLength="62.4" lengthAdjust="spacingAndGlyphs" >-treated</text>
</g>
</svg>
</body>
</html>
